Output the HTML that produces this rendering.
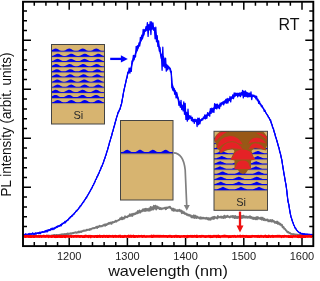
<!DOCTYPE html>
<html><head><meta charset="utf-8"><style>
html,body{margin:0;padding:0;background:#fff;}
body{width:315px;height:281px;overflow:hidden;position:relative;font-family:"Liberation Sans",sans-serif;}
svg{position:absolute;left:0;top:0;will-change:transform;}
</style></head><body>
<svg width="315" height="281" viewBox="0 0 315 281" font-family="Liberation Sans, sans-serif">
<defs><clipPath id="c1"><rect x="51.5" y="44.5" width="53" height="79.5"/></clipPath>
<clipPath id="c3"><rect x="214" y="131.3" width="53.5" height="79"/></clipPath></defs>
<path d="M34.28,246.1 V242.1 M34.28,1.75 V5.75 M45.92,246.1 V242.1 M45.92,1.75 V5.75 M57.56,246.1 V242.1 M57.56,1.75 V5.75 M69.20,246.1 V238.1 M69.20,1.75 V9.75 M80.84,246.1 V242.1 M80.84,1.75 V5.75 M92.48,246.1 V242.1 M92.48,1.75 V5.75 M104.12,246.1 V242.1 M104.12,1.75 V5.75 M115.76,246.1 V242.1 M115.76,1.75 V5.75 M127.40,246.1 V238.1 M127.40,1.75 V9.75 M139.04,246.1 V242.1 M139.04,1.75 V5.75 M150.68,246.1 V242.1 M150.68,1.75 V5.75 M162.32,246.1 V242.1 M162.32,1.75 V5.75 M173.96,246.1 V242.1 M173.96,1.75 V5.75 M185.60,246.1 V238.1 M185.60,1.75 V9.75 M197.24,246.1 V242.1 M197.24,1.75 V5.75 M208.88,246.1 V242.1 M208.88,1.75 V5.75 M220.52,246.1 V242.1 M220.52,1.75 V5.75 M232.16,246.1 V242.1 M232.16,1.75 V5.75 M243.80,246.1 V238.1 M243.80,1.75 V9.75 M255.44,246.1 V242.1 M255.44,1.75 V5.75 M267.08,246.1 V242.1 M267.08,1.75 V5.75 M278.72,246.1 V242.1 M278.72,1.75 V5.75 M290.36,246.1 V242.1 M290.36,1.75 V5.75 M302.00,246.1 V238.1 M302.00,1.75 V9.75 M23,236.30 H31 M313.3,236.30 H305.3 M23,226.50 H27 M313.3,226.50 H309.3 M23,216.70 H27 M313.3,216.70 H309.3 M23,206.90 H27 M313.3,206.90 H309.3 M23,197.10 H27 M313.3,197.10 H309.3 M23,187.30 H31 M313.3,187.30 H305.3 M23,177.50 H27 M313.3,177.50 H309.3 M23,167.70 H27 M313.3,167.70 H309.3 M23,157.90 H27 M313.3,157.90 H309.3 M23,148.10 H27 M313.3,148.10 H309.3 M23,138.30 H31 M313.3,138.30 H305.3 M23,128.50 H27 M313.3,128.50 H309.3 M23,118.70 H27 M313.3,118.70 H309.3 M23,108.90 H27 M313.3,108.90 H309.3 M23,99.10 H27 M313.3,99.10 H309.3 M23,89.30 H31 M313.3,89.30 H305.3 M23,79.50 H27 M313.3,79.50 H309.3 M23,69.70 H27 M313.3,69.70 H309.3 M23,59.90 H27 M313.3,59.90 H309.3 M23,50.10 H27 M313.3,50.10 H309.3 M23,40.30 H31 M313.3,40.30 H305.3 M23,30.50 H27 M313.3,30.50 H309.3 M23,20.70 H27 M313.3,20.70 H309.3 M23,10.90 H27 M313.3,10.90 H309.3" stroke="#000" stroke-width="1.5" fill="none"/>
<g fill="none" stroke-linejoin="round">
<path d="M23.50,236.55 24.30,235.96 25.10,236.64 25.90,236.19 26.70,236.55 27.50,235.91 28.30,236.24 29.10,236.18 29.90,236.56 30.70,236.00 31.50,236.38 32.30,235.90 33.10,236.42 33.90,235.85 34.70,236.28 35.50,235.99 36.30,236.43 37.10,235.90 37.90,236.23 38.70,236.12 39.50,236.50 40.30,235.81 41.10,236.22 41.90,235.77 42.70,236.19 43.50,235.64 44.30,236.31 45.10,235.96 45.90,236.17 46.70,235.73 47.50,235.92 48.30,235.49 49.10,236.15 49.90,235.60 50.70,235.99 51.50,235.46 52.30,235.73 53.10,235.16 53.90,235.40 54.70,234.93 55.50,235.53 56.30,234.86 57.10,235.49 57.90,234.89 58.70,235.29 59.50,234.79 60.30,235.04 61.10,234.35 61.90,234.90 62.70,234.24 63.50,234.46 64.30,234.02 65.10,234.73 65.90,233.85 66.70,234.19 67.50,233.48 68.30,234.27 69.10,233.49 69.90,233.89 70.70,233.29 71.50,233.67 72.30,233.03 73.10,233.29 73.90,232.69 74.70,232.83 75.50,232.29 76.30,232.84 77.10,232.31 77.90,232.64 78.70,231.55 79.50,232.27 80.30,231.38 81.10,232.05 81.90,231.08 82.70,231.24 83.50,230.52 84.30,230.83 85.10,230.39 85.90,230.76 86.70,229.75 87.50,230.00 88.30,229.61 89.10,230.01 89.90,229.07 90.70,229.60 91.50,228.66 92.30,228.60 93.10,228.01 93.90,228.34 94.70,227.87 95.50,227.76 96.30,226.70 97.10,227.94 97.90,226.51 98.70,227.07 99.50,225.76 100.30,226.42 101.10,226.07 101.90,226.31 102.70,225.52 103.50,225.64 104.30,224.46 105.10,225.72 105.90,224.33 106.70,224.97 107.50,223.65 108.30,224.10 109.10,222.84 109.90,223.68 110.70,222.46 111.50,223.85 112.30,222.01 113.10,222.58 113.90,221.86 114.70,222.07 115.50,220.86 116.30,221.67 117.10,220.58 117.90,220.65 118.70,219.96 119.50,219.82 120.30,218.13 121.10,219.27 121.90,217.29 122.70,219.15 123.50,217.87 124.30,218.40 125.10,216.32 125.90,217.28 126.70,216.73 127.50,217.14 128.30,215.73 129.10,216.13 129.90,214.25 130.70,215.85 131.50,214.13 132.30,215.94 133.10,213.68 133.90,214.58 134.70,213.48 135.50,213.92 136.30,212.56 137.10,213.39 137.90,211.05 138.70,212.78 139.50,210.49 140.30,212.50 141.10,210.98 141.90,211.29 142.70,209.39 143.50,210.79 144.30,209.00 145.10,211.07 145.90,208.65 146.70,210.63 147.50,208.99 148.30,210.65 149.10,208.48 149.90,210.65 150.70,206.99 151.50,209.83 152.30,207.33 153.10,209.52 153.90,205.82 154.70,208.51 155.50,205.69 156.30,209.43 157.10,206.52 157.90,208.13 158.70,207.27 159.50,209.02 160.30,208.06 161.10,209.26 161.90,208.20 162.70,208.82 163.50,208.25 164.30,208.39 165.10,207.61 165.90,209.25 166.70,207.58 167.50,208.06 168.30,207.17 169.10,207.64 169.90,206.72 170.70,208.29 171.50,208.41 172.30,210.32 173.10,208.58 173.90,210.87 174.70,209.15 175.50,210.63 176.30,210.25 177.10,211.14 177.90,210.07 178.70,210.83 179.50,209.81 180.30,211.33 181.10,210.49 181.90,213.20 182.70,211.26 183.50,213.17 184.30,212.37 185.10,214.02 185.90,213.41 186.70,214.82 187.50,214.17 188.30,215.46 189.10,214.79 189.90,215.87 190.70,215.36 191.50,217.39 192.30,216.03 193.10,217.58 193.90,215.35 194.70,217.91 195.50,215.72 196.30,218.03 197.10,216.61 197.90,217.84 198.70,217.39 199.50,218.39 200.30,217.17 201.10,218.76 201.90,217.53 202.70,218.45 203.50,217.70 204.30,218.46 205.10,218.00 205.90,218.74 206.70,217.81 207.50,219.13 208.30,218.12 209.10,219.70 209.90,218.28 210.70,219.63 211.50,217.69 212.30,218.74 213.10,216.89 213.90,218.94 214.70,216.79 215.50,217.82 216.30,217.49 217.10,218.45 217.90,216.05 218.70,217.52 219.50,216.98 220.30,217.47 221.10,216.44 221.90,217.82 222.70,216.87 223.50,217.90 224.30,215.62 225.10,217.75 225.90,216.21 226.70,217.03 227.50,215.82 228.30,216.96 229.10,216.73 229.90,217.42 230.70,216.32 231.50,216.82 232.30,216.00 233.10,217.45 233.90,216.01 234.70,218.14 235.50,216.08 236.30,217.98 237.10,216.65 237.90,218.00 238.70,216.75 239.50,217.48 240.30,216.56 241.10,218.22 241.90,215.89 242.70,217.79 243.50,215.65 244.30,217.51 245.10,216.55 245.90,217.67 246.70,216.59 247.50,217.82 248.30,216.79 249.10,217.71 249.90,216.17 250.70,217.98 251.50,217.03 252.30,218.65 253.10,217.52 253.90,218.98 254.70,217.73 255.50,219.14 256.30,217.15 257.10,219.30 257.90,217.10 258.70,218.61 259.50,218.05 260.30,219.01 261.10,217.55 261.90,219.67 262.70,217.69 263.50,220.03 264.30,218.87 265.10,220.38 265.90,219.60 266.70,220.19 267.50,219.40 268.30,221.29 269.10,220.23 269.90,221.35 270.70,220.06 271.50,221.60 272.30,220.03 273.10,221.52 273.90,220.94 274.70,222.69 275.50,221.98 276.30,223.06 277.10,221.50 277.90,223.88 278.70,222.56 279.50,224.40 280.30,223.68 281.10,225.22 281.90,224.75 282.70,227.36 283.50,226.93 284.30,228.86 285.10,228.95 285.90,230.36 286.70,231.00 287.50,232.35 288.30,231.91 289.10,232.96 289.90,232.83 290.70,233.83 291.50,233.83 292.30,234.30 293.10,234.05 293.90,234.67 294.70,234.31 295.50,235.04 296.30,234.50 297.10,234.91 297.90,234.76 298.70,235.17 299.50,234.74 300.30,235.16 301.10,234.99 301.90,235.40 302.70,234.87 303.50,235.49 304.30,234.92 305.10,235.25 305.90,234.87 306.70,235.50 307.50,234.79 308.30,235.33 309.10,234.91 309.90,235.35 310.70,234.90 311.50,235.53 312.30,234.86" stroke="#787878" stroke-width="1.9"/>
<path d="M23.50,234.61 24.00,234.56 24.50,234.51 25.00,234.46 25.50,234.41 26.00,234.37 26.50,234.32 27.00,234.27 27.50,234.23 28.00,234.18 28.50,234.13 29.00,234.08 29.50,234.04 30.00,233.99 30.50,233.94 31.00,233.89 31.50,233.83 32.00,233.78 32.50,233.73 33.00,233.67 33.50,233.61 34.00,233.55 34.50,233.48 35.00,233.41 35.50,233.34 36.00,233.27 36.50,233.19 37.00,233.11 37.50,233.03 38.00,232.94 38.50,232.85 39.00,232.76 39.50,232.66 40.00,232.56 40.50,232.46 41.00,232.36 41.50,232.25 42.00,232.14 42.50,232.02 43.00,231.91 43.50,231.79 44.00,231.67 44.50,231.54 45.00,231.41 45.50,231.28 46.00,231.13 46.50,230.97 47.00,230.80 47.50,230.63 48.00,230.45 48.50,230.27 49.00,230.08 49.50,229.90 50.00,229.71 50.50,229.53 51.00,229.34 51.50,229.16 52.00,228.97 52.50,228.78 53.00,228.58 53.50,228.38 54.00,228.18 54.50,227.98 55.00,227.77 55.50,227.55 56.00,227.33 56.50,227.10 57.00,226.86 57.50,226.62 58.00,226.37 58.50,226.11 59.00,225.84 59.50,225.57 60.00,225.29 60.50,225.00 61.00,224.71 61.50,224.40 62.00,224.09 62.50,223.77 63.00,223.44 63.50,223.10 64.00,222.75 64.50,222.40 65.00,222.02 65.50,221.63 66.00,221.23 66.50,220.81 67.00,220.38 67.50,219.93 68.00,219.48 68.50,219.02 69.00,218.55 69.50,218.07 70.00,217.59 70.50,217.10 71.00,216.61 71.50,216.11 72.00,215.61 72.50,215.11 73.00,214.59 73.50,214.07 74.00,213.54 74.50,213.00 75.00,212.45 75.50,211.89 76.00,211.32 76.50,210.75 77.00,210.16 77.50,209.57 78.00,208.96 78.50,208.35 79.00,207.73 79.50,207.09 80.00,206.44 80.50,205.78 81.00,205.11 81.50,204.43 82.00,203.73 82.50,203.03 83.00,202.32 83.50,201.59 84.00,200.86 84.50,200.12 85.00,199.36 85.50,198.60 86.00,197.83 86.50,197.04 87.00,196.24 87.50,195.43 88.00,194.60 88.50,193.75 89.00,192.89 89.50,192.01 90.00,191.12 90.50,190.22 91.00,189.29 91.50,188.35 92.00,187.39 92.50,186.42 93.00,185.42 93.50,184.41 94.00,183.39 94.50,182.35 95.00,181.31 95.50,180.25 96.00,179.19 96.50,178.11 97.00,177.03 97.50,175.95 98.00,174.87 98.50,173.78 99.00,172.69 99.50,171.58 100.00,170.45 100.50,169.31 101.00,168.15 101.50,166.96 102.00,165.74 102.50,164.49 103.00,163.21 103.50,161.89 104.00,160.51 104.50,159.08 105.00,157.61 105.50,156.10 106.00,154.55 106.50,152.98 107.00,151.38 107.50,149.71 108.00,147.98 108.50,146.24 109.00,144.50 109.50,142.77 110.00,141.02 110.50,139.26 111.00,137.49 111.50,135.72 112.00,133.94 112.50,132.17 113.00,130.40 113.50,128.60 114.00,126.76 114.50,124.89 115.00,123.02 115.50,121.17 116.00,119.36 116.50,117.61 117.00,115.95 117.50,114.40 118.00,113.01 118.50,111.78 119.00,110.63 119.50,109.49 120.00,108.30 120.50,106.97 121.00,105.44 121.50,103.56 122.00,101.10 122.50,98.27 123.00,95.29 123.50,92.42 124.00,89.87 124.50,87.56 125.00,85.34 125.50,83.19 126.00,81.09 126.50,78.92 127.00,76.52 127.50,74.23 128.00,72.41 128.50,71.32 129.00,70.61 129.50,70.05 130.00,69.46 130.50,68.66 131.00,67.33 131.50,65.28 132.00,62.93 132.50,60.67 133.00,58.91 133.50,57.77 134.00,56.87 134.50,55.87 135.00,54.46 135.50,52.76 136.00,51.15 136.50,49.96 137.00,49.00 137.50,48.12 138.00,47.12 138.50,45.94 139.00,44.66 139.50,43.37 140.00,42.02 140.50,40.67 141.00,39.42 141.50,38.39 142.00,37.44 142.50,36.35 143.00,34.75 143.50,32.64 144.00,30.75 144.50,29.63 145.00,28.84 145.50,28.36 146.00,27.96 146.50,27.60 147.00,27.30 147.50,27.07 148.00,26.94 148.50,26.90 149.00,26.93 149.50,26.98 150.00,27.02 150.50,26.96 151.00,26.65 151.50,26.23 152.00,25.88 152.50,25.78 153.00,26.01 153.50,26.49 154.00,27.13 154.50,27.95 155.00,29.41 155.50,31.33 156.00,33.51 156.50,35.73 157.00,37.77 157.50,39.68 158.00,41.62 158.50,43.60 159.00,45.61 159.50,47.67 160.00,49.77 160.50,52.08 161.00,54.16 161.50,55.19 162.00,55.49 162.50,55.62 163.00,55.81 163.50,56.27 164.00,57.89 164.50,60.39 165.00,62.24 165.50,63.21 166.00,64.04 166.50,64.74 167.00,65.26 167.50,65.65 168.00,66.06 168.50,66.47 169.00,66.89 169.50,67.35 170.00,68.01 170.50,69.02 171.00,70.49 171.50,73.71 172.00,82.89 172.50,85.62 173.00,86.75 173.50,87.65 174.00,88.44 174.50,89.23 175.00,90.12 175.50,91.09 176.00,92.13 176.50,93.24 177.00,94.41 177.50,95.64 178.00,96.95 178.50,98.59 179.00,100.35 179.50,101.93 180.00,103.04 180.50,103.69 181.00,104.17 181.50,104.54 182.00,104.86 182.50,105.20 183.00,105.64 183.50,106.24 184.00,107.15 184.50,108.34 185.00,109.66 185.50,110.97 186.00,112.15 186.50,113.06 187.00,113.59 187.50,114.04 188.00,114.48 188.50,114.91 189.00,115.33 189.50,115.73 190.00,116.12 190.50,116.50 191.00,117.01 191.50,117.63 192.00,118.28 192.50,118.88 193.00,119.38 193.50,119.68 194.00,119.77 194.50,119.79 195.00,119.75 195.50,119.69 196.00,119.63 196.50,119.57 197.00,119.54 197.50,119.55 198.00,119.59 198.50,119.66 199.00,119.74 199.50,119.82 200.00,119.90 200.50,119.96 201.00,119.90 201.50,119.63 202.00,119.23 202.50,118.74 203.00,118.22 203.50,117.73 204.00,117.33 204.50,116.98 205.00,116.66 205.50,116.35 206.00,116.03 206.50,115.68 207.00,115.30 207.50,114.85 208.00,114.28 208.50,113.59 209.00,112.81 209.50,111.99 210.00,111.18 210.50,110.41 211.00,109.72 211.50,109.17 212.00,108.77 212.50,108.44 213.00,108.14 213.50,107.88 214.00,107.63 214.50,107.39 215.00,107.14 215.50,106.87 216.00,106.59 216.50,106.32 217.00,106.04 217.50,105.76 218.00,105.48 218.50,105.18 219.00,104.88 219.50,104.55 220.00,104.18 220.50,103.78 221.00,103.38 221.50,102.98 222.00,102.61 222.50,102.29 223.00,102.03 223.50,101.82 224.00,101.66 224.50,101.51 225.00,101.38 225.50,101.24 226.00,101.09 226.50,100.91 227.00,100.68 227.50,100.41 228.00,100.09 228.50,99.73 229.00,99.36 229.50,98.99 230.00,98.61 230.50,98.25 231.00,97.87 231.50,97.47 232.00,97.04 232.50,96.61 233.00,96.20 233.50,95.80 234.00,95.43 234.50,95.10 235.00,94.76 235.50,94.42 236.00,94.10 236.50,93.82 237.00,93.60 237.50,93.45 238.00,93.40 238.50,93.41 239.00,93.42 239.50,93.44 240.00,93.47 240.50,93.49 241.00,93.52 241.50,93.54 242.00,93.56 242.50,93.57 243.00,93.57 243.50,93.55 244.00,93.44 244.50,93.20 245.00,92.88 245.50,92.56 246.00,92.29 246.50,92.14 247.00,92.23 247.50,92.77 248.00,93.50 248.50,94.17 249.00,94.49 249.50,94.54 250.00,94.60 250.50,94.66 251.00,94.73 251.50,94.80 252.00,94.86 252.50,94.98 253.00,95.16 253.50,95.39 254.00,95.65 254.50,95.94 255.00,96.23 255.50,96.55 256.00,97.05 256.50,97.73 257.00,98.52 257.50,99.38 258.00,100.24 258.50,101.05 259.00,101.78 259.50,102.50 260.00,103.22 260.50,103.94 261.00,104.67 261.50,105.41 262.00,106.16 262.50,106.93 263.00,107.72 263.50,108.53 264.00,109.36 264.50,110.20 265.00,111.04 265.50,111.89 266.00,112.72 266.50,113.54 267.00,114.31 267.50,115.08 268.00,115.85 268.50,116.65 269.00,117.50 269.50,118.42 270.00,119.42 270.50,120.56 271.00,121.83 271.50,123.20 272.00,124.65 272.50,126.15 273.00,127.67 273.50,129.20 274.00,130.79 274.50,132.44 275.00,134.13 275.50,135.85 276.00,137.57 276.50,139.29 277.00,141.00 277.50,142.71 278.00,144.43 278.50,146.20 279.00,148.02 279.50,149.91 280.00,151.86 280.50,153.85 281.00,155.97 281.50,158.31 282.00,161.05 282.50,164.35 283.00,167.65 283.50,170.69 284.00,173.66 284.50,176.60 285.00,179.52 285.50,182.27 286.00,185.08 286.50,188.26 287.00,192.55 287.50,197.56 288.00,200.96 288.50,203.11 289.00,205.58 289.50,208.77 290.00,211.98 290.50,214.51 291.00,216.49 291.50,218.23 292.00,219.80 292.50,221.24 293.00,222.63 293.50,223.99 294.00,225.27 294.50,226.43 295.00,227.43 295.50,228.27 296.00,229.05 296.50,229.77 297.00,230.42 297.50,230.99 298.00,231.47 298.50,231.86 299.00,232.19 299.50,232.50 300.00,232.79 300.50,233.05 301.00,233.27 301.50,233.46 302.00,233.60 302.50,233.71 303.00,233.79 303.50,233.87 304.00,233.94 304.50,234.00 305.00,234.06 305.50,234.11 306.00,234.16 306.50,234.20 307.00,234.24 307.50,234.28 308.00,234.32 308.50,234.36 309.00,234.39 309.50,234.43 310.00,234.47 310.50,234.52 311.00,234.56 311.50,234.60 312.00,234.64 312.50,234.67 313.00,234.71 313.00,234.89 312.50,234.85 312.00,234.81 311.50,234.78 311.00,234.74 310.50,234.70 310.00,234.66 309.50,234.62 309.00,234.59 308.50,234.55 308.00,234.51 307.50,234.48 307.00,234.44 306.50,234.40 306.00,234.36 305.50,234.31 305.00,234.27 304.50,234.21 304.00,234.15 303.50,234.08 303.00,234.01 302.50,233.93 302.00,233.82 301.50,233.68 301.00,233.49 300.50,233.27 300.00,233.02 299.50,232.73 299.00,232.42 298.50,232.08 298.00,231.70 297.50,231.22 297.00,230.65 296.50,230.00 296.00,229.28 295.50,228.51 295.00,227.67 294.50,226.66 294.00,225.50 293.50,224.22 293.00,222.87 292.50,221.48 292.00,220.04 291.50,218.47 291.00,216.73 290.50,214.75 290.00,212.22 289.50,209.01 289.00,205.83 288.50,203.35 288.00,201.21 287.50,197.81 287.00,192.80 286.50,188.52 286.00,185.33 285.50,182.53 285.00,179.79 284.50,176.87 284.00,173.94 283.50,170.98 283.00,167.95 282.50,164.67 282.00,161.38 281.50,158.66 281.00,156.33 280.50,154.22 280.00,152.25 279.50,150.31 279.00,148.43 278.50,146.63 278.00,144.88 277.50,143.17 277.00,141.48 276.50,139.79 276.00,138.09 275.50,136.38 275.00,134.69 274.50,133.02 274.00,131.40 273.50,129.83 273.00,128.33 272.50,126.83 272.00,125.36 271.50,123.92 271.00,122.57 270.50,121.31 270.00,120.17 269.50,119.16 269.00,118.22 268.50,117.34 268.00,116.50 267.50,115.69 267.00,114.90 266.50,114.10 266.00,113.28 265.50,112.44 265.00,111.59 264.50,110.75 264.00,109.91 263.50,109.09 263.00,108.28 262.50,107.50 262.00,106.74 261.50,106.02 261.00,105.34 260.50,104.68 260.00,104.02 259.50,103.36 259.00,102.67 258.50,101.95 258.00,101.14 257.50,100.27 257.00,99.41 256.50,98.61 256.00,97.93 255.50,97.43 255.00,97.12 254.50,96.87 254.00,96.67 253.50,96.51 253.00,96.41 252.50,96.35 252.00,96.34 251.50,96.38 251.00,96.43 250.50,96.49 250.00,96.54 249.50,96.59 249.00,96.61 248.50,96.36 248.00,95.76 247.50,95.08 247.00,94.58 246.50,94.48 246.00,94.55 245.50,94.67 245.00,94.81 244.50,94.94 244.00,95.03 243.50,95.05 243.00,95.02 242.50,94.98 242.00,94.93 241.50,94.88 241.00,94.82 240.50,94.76 240.00,94.71 239.50,94.67 239.00,94.63 238.50,94.61 238.00,94.60 237.50,94.68 237.00,94.90 236.50,95.23 236.00,95.63 235.50,96.06 235.00,96.49 234.50,96.89 234.00,97.23 233.50,97.56 233.00,97.89 232.50,98.23 232.00,98.56 231.50,98.91 231.00,99.25 230.50,99.60 230.00,99.96 229.50,100.34 229.00,100.71 228.50,101.08 228.00,101.44 227.50,101.76 227.00,102.03 226.50,102.26 226.00,102.44 225.50,102.59 225.00,102.73 224.50,102.86 224.00,103.01 223.50,103.17 223.00,103.38 222.50,103.64 222.00,103.98 221.50,104.37 221.00,104.79 220.50,105.22 220.00,105.64 219.50,106.04 219.00,106.38 218.50,106.71 218.00,107.02 217.50,107.33 217.00,107.63 216.50,107.93 216.00,108.22 215.50,108.52 215.00,108.82 214.50,109.09 214.00,109.36 213.50,109.63 213.00,109.91 212.50,110.22 212.00,110.57 211.50,110.97 211.00,111.49 210.50,112.10 210.00,112.78 209.50,113.49 209.00,114.20 208.50,114.87 208.00,115.47 207.50,115.97 207.00,116.35 206.50,116.68 206.00,116.97 205.50,117.24 205.00,117.51 204.50,117.80 204.00,118.13 203.50,118.55 203.00,119.08 202.50,119.68 202.00,120.27 201.50,120.79 201.00,121.16 200.50,121.34 200.00,121.40 199.50,121.48 199.00,121.56 198.50,121.64 198.00,121.71 197.50,121.75 197.00,121.76 196.50,121.71 196.00,121.60 195.50,121.46 195.00,121.30 194.50,121.15 194.00,121.02 193.50,120.91 193.00,120.60 192.50,120.11 192.00,119.50 191.50,118.86 191.00,118.24 190.50,117.72 190.00,117.38 189.50,117.20 189.00,117.13 188.50,117.10 188.00,117.05 187.50,116.92 187.00,116.65 186.50,116.13 186.00,115.20 185.50,113.99 185.00,112.63 184.50,111.26 184.00,110.02 183.50,109.05 183.00,108.38 182.50,107.85 182.00,107.40 181.50,106.97 181.00,106.50 180.50,105.95 180.00,105.26 179.50,104.15 179.00,102.56 178.50,100.79 178.00,99.15 177.50,97.84 177.00,96.61 176.50,95.44 176.00,94.33 175.50,93.29 175.00,92.32 174.50,91.44 174.00,90.99 173.50,90.84 173.00,90.62 172.50,89.97 172.00,87.01 171.50,75.80 171.00,72.10 170.50,70.51 170.00,69.43 169.50,68.73 169.00,68.30 168.50,68.17 168.00,68.19 167.50,68.16 167.00,67.88 166.50,67.32 166.00,66.56 165.50,65.66 165.00,64.66 164.50,63.59 164.00,62.56 163.50,61.73 163.00,61.17 162.50,60.75 162.00,60.28 161.50,59.59 161.00,57.95 160.50,54.98 160.00,52.23 159.50,50.12 159.00,48.06 158.50,46.05 158.00,44.07 157.50,42.13 157.00,40.23 156.50,38.23 156.00,36.14 155.50,34.13 155.00,32.38 154.50,31.09 154.00,30.36 153.50,29.82 153.00,29.42 152.50,29.23 152.00,29.29 151.50,29.50 151.00,29.75 150.50,29.94 150.00,29.98 149.50,30.02 149.00,30.07 148.50,30.10 148.00,30.13 147.50,30.25 147.00,30.44 146.50,30.69 146.00,30.99 145.50,31.33 145.00,31.75 144.50,32.45 144.00,33.43 143.50,35.03 143.00,36.87 142.50,38.35 142.00,39.42 141.50,40.36 141.00,41.38 140.50,42.51 140.00,43.69 139.50,44.92 139.00,46.24 138.50,47.61 138.00,48.88 137.50,49.94 137.00,50.90 136.50,51.90 136.00,53.09 135.50,54.55 135.00,56.07 134.50,57.42 134.00,58.52 133.50,59.57 133.00,60.79 132.50,62.52 132.00,64.72 131.50,67.00 131.00,68.96 130.50,70.22 130.00,70.95 129.50,71.47 129.00,71.96 128.50,72.59 128.00,73.55 127.50,75.16 127.00,77.23 126.50,79.45 126.00,81.59 125.50,83.69 125.00,85.84 124.50,88.06 124.00,90.37 123.50,92.92 123.00,95.79 122.50,98.77 122.00,101.60 121.50,104.06 121.00,105.94 120.50,107.46 120.00,108.77 119.50,109.95 119.00,111.07 118.50,112.20 118.00,113.42 117.50,114.80 117.00,116.35 116.50,118.01 116.00,119.76 115.50,121.57 115.00,123.42 114.50,125.29 114.00,127.16 113.50,129.00 113.00,130.80 112.50,132.57 112.00,134.33 111.50,136.09 111.00,137.84 110.50,139.59 110.00,141.33 109.50,143.07 109.00,144.80 108.50,146.54 108.00,148.28 107.50,150.01 107.00,151.68 106.50,153.28 106.00,154.85 105.50,156.40 105.00,157.91 104.50,159.38 104.00,160.81 103.50,162.19 103.00,163.51 102.50,164.79 102.00,166.04 101.50,167.26 101.00,168.45 100.50,169.61 100.00,170.75 99.50,171.88 99.00,172.99 98.50,174.08 98.00,175.17 97.50,176.25 97.00,177.33 96.50,178.41 96.00,179.49 95.50,180.55 95.00,181.61 94.50,182.65 94.00,183.69 93.50,184.71 93.00,185.72 92.50,186.72 92.00,187.69 91.50,188.65 91.00,189.59 90.50,190.52 90.00,191.42 89.50,192.31 89.00,193.19 88.50,194.05 88.00,194.90 87.50,195.73 87.00,196.54 86.50,197.34 86.00,198.13 85.50,198.90 85.00,199.66 84.50,200.42 84.00,201.16 83.50,201.89 83.00,202.62 82.50,203.33 82.00,204.03 81.50,204.73 81.00,205.41 80.50,206.08 80.00,206.74 79.50,207.39 79.00,208.03 78.50,208.65 78.00,209.26 77.50,209.87 77.00,210.47 76.50,211.06 76.00,211.64 75.50,212.22 75.00,212.78 74.50,213.34 74.00,213.89 73.50,214.43 73.00,214.96 72.50,215.48 72.00,215.99 71.50,216.49 71.00,216.98 70.50,217.47 70.00,217.96 69.50,218.44 69.00,218.92 68.50,219.39 68.00,219.86 67.50,220.31 67.00,220.75 66.50,221.18 66.00,221.60 65.50,222.01 65.00,222.40 64.50,222.77 64.00,223.13 63.50,223.48 63.00,223.81 62.50,224.14 62.00,224.46 61.50,224.78 61.00,225.08 60.50,225.38 60.00,225.66 59.50,225.95 59.00,226.22 58.50,226.48 58.00,226.74 57.50,226.99 57.00,227.24 56.50,227.47 56.00,227.70 55.50,227.92 55.00,228.14 54.50,228.35 54.00,228.56 53.50,228.76 53.00,228.96 52.50,229.15 52.00,229.34 51.50,229.53 51.00,229.72 50.50,229.90 50.00,230.09 49.50,230.27 49.00,230.46 48.50,230.64 48.00,230.83 47.50,231.01 47.00,231.18 46.50,231.35 46.00,231.50 45.50,231.65 45.00,231.79 44.50,231.92 44.00,232.04 43.50,232.16 43.00,232.28 42.50,232.40 42.00,232.51 41.50,232.62 41.00,232.73 40.50,232.84 40.00,232.94 39.50,233.04 39.00,233.13 38.50,233.23 38.00,233.32 37.50,233.40 37.00,233.49 36.50,233.57 36.00,233.64 35.50,233.72 35.00,233.79 34.50,233.86 34.00,233.92 33.50,233.98 33.00,234.04 32.50,234.10 32.00,234.16 31.50,234.21 31.00,234.26 30.50,234.31 30.00,234.36 29.50,234.41 29.00,234.46 28.50,234.51 28.00,234.55 27.50,234.60 27.00,234.65 26.50,234.69 26.00,234.74 25.50,234.79 25.00,234.84 24.50,234.89 24.00,234.94 23.50,234.99 Z" fill="#0000ff" stroke="#0000ff" stroke-width="1.0"/>
<path d="M23.50,235.08 24.20,234.37 24.90,235.00 25.60,233.70 26.30,234.77 27.00,234.42 27.70,234.89 28.40,233.72 29.10,235.08 29.80,233.47 30.50,234.19 31.20,234.00 31.90,234.03 32.60,232.89 33.30,234.30 34.00,233.41 34.70,234.38 35.40,232.90 36.10,234.17 36.80,232.97 37.50,233.33 38.20,232.62 38.90,233.73 39.60,232.21 40.30,233.64 41.00,232.03 41.70,232.57 42.40,231.66 43.10,232.09 43.80,231.89 44.50,232.05 45.20,230.56 45.90,231.95 46.60,230.36 47.30,231.93 48.00,229.66 48.70,230.74 49.40,229.59 50.10,230.54 50.80,228.63 51.50,229.67 52.20,228.04 52.90,229.66 53.60,228.19 54.30,228.97 55.00,227.43 55.70,228.12 56.40,226.54 57.10,227.37 57.80,225.89 58.50,226.50 59.20,225.43 59.90,226.23 60.60,224.58 61.30,225.74 62.00,223.38 62.70,223.87 63.40,223.00 64.10,223.17 64.80,221.48 65.50,222.82 66.20,220.68 66.90,220.97 67.60,219.86 68.30,220.05 69.00,218.22 69.70,218.53 70.40,216.64 71.10,216.93 71.80,215.48 72.50,216.11 73.20,214.25 73.90,214.46 74.60,212.82 75.30,212.53 76.00,210.93 76.70,211.15 77.40,209.63 78.10,209.58 78.80,207.95 79.50,207.97 80.20,205.82 80.90,205.94 81.60,204.20 82.30,203.97 83.00,202.22 83.70,202.01 84.40,200.21 85.10,199.65 85.80,197.82 86.50,198.00 87.20,195.93 87.90,195.13 88.60,193.68 89.30,192.69 90.00,191.15 90.70,190.23 91.40,188.48 92.10,187.99 92.80,185.47 93.50,185.08 94.20,183.11 94.90,182.06 95.60,179.56 96.30,179.07 97.00,176.58 97.70,176.10 98.40,173.97 99.10,173.19 99.80,170.36 100.50,169.90 101.20,167.02 101.90,166.48 102.60,164.36 103.30,162.99 104.00,160.07 104.70,158.77 105.40,156.36 106.10,154.76 106.80,151.70 107.50,150.15 108.20,147.33 108.90,145.00 109.60,141.82 110.30,140.17 111.00,137.35 111.70,135.75 112.40,132.18 113.10,130.40 113.80,127.34 114.50,125.62 115.20,122.28 115.90,120.47 116.60,117.28 117.30,115.82 118.00,112.20 118.70,112.10 119.40,109.58 120.10,109.45 120.80,105.36 121.50,103.93 122.20,99.63 122.90,96.28 123.60,91.89 124.30,89.02 125.00,85.53 125.70,82.75 126.40,78.91 127.10,77.60 127.80,72.06 128.50,72.70 129.20,68.03 129.90,73.18 130.60,68.39 131.30,71.43 132.00,60.92 132.70,61.99 133.40,55.38 134.10,59.86 134.80,55.55 135.50,56.95 136.20,46.40 136.90,50.96 137.60,45.58 138.30,47.53 139.00,42.93 139.70,45.85 140.40,37.37 141.10,40.31 141.80,35.19 142.50,38.67 143.20,29.33 143.90,35.01 144.60,30.73 145.30,30.65 146.00,26.59 146.70,29.44 147.40,22.60 148.10,36.47 148.80,24.56 149.50,28.63 150.20,21.71 150.90,34.54 151.60,21.97 152.30,27.97 153.00,23.00 153.70,29.99 154.40,28.14 155.10,38.76 155.80,27.22 156.50,41.78 157.20,35.69 157.90,46.36 158.60,40.87 159.30,51.06 160.00,47.49 160.70,55.19 161.40,54.42 162.10,70.27 162.80,47.27 163.50,66.17 164.20,58.95 164.90,67.70 165.60,58.26 166.30,71.19 167.00,64.78 167.70,69.87 168.40,66.09 169.10,67.86 169.80,67.92 170.50,71.85 171.20,71.49 171.90,87.72 172.60,85.24 173.30,90.55 174.00,88.39 174.70,94.23 175.40,91.12 176.10,97.91 176.80,92.54 177.50,97.80 178.20,98.67 178.90,105.30 179.60,102.36 180.30,107.24 181.00,100.37 181.70,109.48 182.40,106.04 183.10,110.85 183.80,101.83 184.50,114.28 185.20,103.49 185.90,119.38 186.60,112.66 187.30,121.15 188.00,109.25 188.70,119.56 189.40,116.17 190.10,118.21 190.80,115.97 191.50,120.66 192.20,117.45 192.90,121.56 193.60,119.45 194.30,123.31 195.00,119.07 195.70,121.39 196.40,120.62 197.10,126.49 197.80,118.19 198.50,124.59 199.20,118.17 199.90,123.79 200.60,119.98 201.30,120.42 202.00,118.55 202.70,120.03 203.40,117.03 204.10,118.58 204.80,114.90 205.50,118.93 206.20,114.86 206.90,118.25 207.60,112.58 208.30,115.24 209.00,113.21 209.70,116.18 210.40,108.68 211.10,113.43 211.80,108.18 212.50,112.02 213.20,108.52 213.90,112.43 214.60,103.76 215.30,108.33 216.00,104.04 216.70,108.89 217.40,104.06 218.10,107.97 218.80,105.69 219.50,108.61 220.20,103.02 220.90,106.13 221.60,102.83 222.30,103.98 223.00,101.92 223.70,104.90 224.40,100.93 225.10,102.98 225.80,99.36 226.50,103.23 227.20,98.37 227.90,103.13 228.60,98.77 229.30,100.57 230.00,96.53 230.70,101.89 231.40,96.91 232.10,98.08 232.80,94.82 233.50,98.63 234.20,92.88 234.90,95.87 235.60,93.14 236.30,95.30 237.00,93.22 237.70,96.75 238.40,93.45 239.10,95.85 239.80,92.92 240.50,96.64 241.20,92.62 241.90,94.81 242.60,90.33 243.30,97.94 244.00,91.22 244.70,96.33 245.40,91.01 246.10,96.63 246.80,92.74 247.50,96.98 248.20,93.03 248.90,96.86 249.60,93.08 250.30,96.49 251.00,91.95 251.70,99.56 252.40,95.37 253.10,96.21 253.80,95.16 254.50,97.15 255.20,95.82 255.90,98.80 256.60,96.28 257.30,100.48 258.00,99.39 258.70,103.36 259.40,101.07 260.10,104.48 260.80,104.26 261.50,106.83 262.20,105.81 262.90,108.14 263.60,108.32 264.30,111.41 265.00,110.33 265.70,112.67 266.40,113.50 267.10,114.80 267.80,115.43 268.50,117.61 269.20,117.61 269.90,120.05 270.60,120.01 271.30,123.18 272.00,124.62 272.70,127.84 273.40,128.40 274.10,131.96 274.80,133.39 275.50,136.75 276.20,138.23 276.90,141.08 277.60,143.18 278.30,146.30 279.00,147.85 279.70,151.88 280.40,153.55 281.10,157.46 281.80,159.75 282.50,164.64 283.20,168.56 283.90,173.29 284.60,176.88 285.30,181.36 286.00,184.68 286.70,190.29 287.40,196.21 288.10,201.97 288.80,204.42 289.50,209.47 290.20,213.00 290.90,216.68 291.60,218.46 292.30,221.20 293.00,222.64 293.70,225.13 294.40,225.84 295.10,228.31 295.80,228.26 296.50,230.08 297.20,230.61 297.90,231.72 298.60,231.82 299.30,232.97 300.00,232.42 300.70,233.59 301.40,233.37 302.10,234.25 302.80,233.56 303.50,234.51 304.20,233.71 304.90,234.56 305.60,234.21 306.30,234.43 307.00,234.10 307.70,234.67 308.40,234.27 309.10,234.76 309.80,234.23 310.50,234.72 311.20,234.41 311.90,234.81 312.60,234.36" stroke="#0000ff" stroke-width="1.3"/>
<path d="M23.50,236.67 24.10,236.08 24.70,236.68 25.30,236.29 25.90,236.64 26.50,236.11 27.10,236.42 27.70,236.12 28.30,236.76 28.90,236.40 29.50,236.64 30.10,236.01 30.70,236.81 31.30,236.39 31.90,236.70 32.50,236.40 33.10,236.64 33.70,236.32 34.30,236.67 34.90,236.18 35.50,236.53 36.10,236.12 36.70,236.57 37.30,236.39 37.90,236.70 38.50,236.10 39.10,236.69 39.70,236.28 40.30,236.52 40.90,236.28 41.50,236.69 42.10,236.39 42.70,236.44 43.30,236.13 43.90,236.53 44.50,236.06 45.10,236.68 45.70,236.34 46.30,236.57 46.90,235.94 47.50,236.49 48.10,236.25 48.70,236.82 49.30,236.28 49.90,236.54 50.50,236.39 51.10,236.74 51.70,236.27 52.30,236.71 52.90,236.10 53.50,236.55 54.10,236.23 54.70,236.67 55.30,236.30 55.90,236.88 56.50,236.13 57.10,236.78 57.70,236.35 58.30,236.72 58.90,236.10 59.50,236.73 60.10,236.16 60.70,236.65 61.30,236.03 61.90,236.79 62.50,236.24 63.10,236.63 63.70,236.11 64.30,236.61 64.90,236.17 65.50,236.86 66.10,235.99 66.70,236.49 67.30,236.34 67.90,236.41 68.50,236.33 69.10,236.79 69.70,236.27 70.30,236.54 70.90,236.01 71.50,236.74 72.10,236.37 72.70,236.50 73.30,236.19 73.90,236.67 74.50,236.16 75.10,236.48 75.70,236.09 76.30,236.66 76.90,236.02 77.50,236.51 78.10,236.10 78.70,236.49 79.30,236.18 79.90,236.77 80.50,236.21 81.10,236.46 81.70,236.16 82.30,236.63 82.90,236.32 83.50,236.76 84.10,236.30 84.70,236.70 85.30,235.93 85.90,236.52 86.50,235.99 87.10,236.50 87.70,236.17 88.30,236.82 88.90,235.99 89.50,236.56 90.10,236.08 90.70,236.88 91.30,236.32 91.90,236.45 92.50,236.34 93.10,236.55 93.70,236.27 94.30,236.79 94.90,236.24 95.50,236.41 96.10,236.15 96.70,236.78 97.30,236.15 97.90,236.66 98.50,236.30 99.10,236.56 99.70,235.93 100.30,236.78 100.90,236.27 101.50,236.48 102.10,236.33 102.70,236.78 103.30,236.04 103.90,236.57 104.50,236.14 105.10,236.72 105.70,236.18 106.30,236.56 106.90,235.99 107.50,236.69 108.10,236.16 108.70,236.69 109.30,236.13 109.90,236.48 110.50,236.32 111.10,236.56 111.70,236.30 112.30,236.52 112.90,235.99 113.50,236.75 114.10,236.34 114.70,236.60 115.30,235.96 115.90,236.66 116.50,236.24 117.10,236.44 117.70,236.37 118.30,236.69 118.90,236.07 119.50,236.52 120.10,235.93 120.70,236.69 121.30,236.34 121.90,236.64 122.50,236.28 123.10,236.68 123.70,236.35 124.30,236.77 124.90,236.11 125.50,236.51 126.10,236.23 126.70,236.66 127.30,236.15 127.90,236.50 128.50,235.92 129.10,236.71 129.70,236.11 130.30,236.61 130.90,235.95 131.50,236.61 132.10,236.27 132.70,236.47 133.30,235.94 133.90,236.70 134.50,236.35 135.10,236.83 135.70,236.30 136.30,236.44 136.90,236.32 137.50,236.64 138.10,236.12 138.70,236.56 139.30,236.31 139.90,236.51 140.50,236.17 141.10,236.47 141.70,236.03 142.30,236.70 142.90,236.31 143.50,236.46 144.10,236.09 144.70,236.47 145.30,236.40 145.90,236.73 146.50,236.37 147.10,236.49 147.70,236.34 148.30,236.51 148.90,236.34 149.50,236.61 150.10,236.39 150.70,236.43 151.30,235.92 151.90,236.71 152.50,236.17 153.10,236.75 153.70,235.92 154.30,236.52 154.90,236.09 155.50,236.50 156.10,236.11 156.70,236.50 157.30,236.02 157.90,236.41 158.50,236.00 159.10,236.67 159.70,235.97 160.30,236.46 160.90,236.12 161.50,236.50 162.10,236.30 162.70,236.42 163.30,235.93 163.90,236.40 164.50,236.29 165.10,236.52 165.70,236.19 166.30,236.52 166.90,236.16 167.50,236.74 168.10,236.17 168.70,236.57 169.30,236.02 169.90,236.47 170.50,236.10 171.10,236.69 171.70,236.17 172.30,236.66 172.90,236.37 173.50,236.45 174.10,236.19 174.70,236.75 175.30,236.08 175.90,236.52 176.50,235.99 177.10,236.78 177.70,236.18 178.30,236.49 178.90,236.17 179.50,236.77 180.10,236.20 180.70,236.63 181.30,236.35 181.90,236.57 182.50,236.36 183.10,236.48 183.70,236.32 184.30,236.63 184.90,236.34 185.50,236.52 186.10,236.20 186.70,236.66 187.30,236.12 187.90,236.82 188.50,236.23 189.10,236.52 189.70,236.23 190.30,236.48 190.90,236.06 191.50,236.69 192.10,236.10 192.70,236.74 193.30,236.23 193.90,236.41 194.50,236.00 195.10,236.50 195.70,236.19 196.30,236.61 196.90,235.95 197.50,236.77 198.10,236.38 198.70,236.51 199.30,236.27 199.90,236.45 200.50,236.15 201.10,236.74 201.70,236.08 202.30,236.41 202.90,236.12 203.50,236.44 204.10,236.15 204.70,236.66 205.30,236.29 205.90,236.65 206.50,236.18 207.10,236.60 207.70,236.25 208.30,236.50 208.90,236.12 209.50,236.62 210.10,236.13 210.70,236.81 211.30,236.29 211.90,236.63 212.50,236.30 213.10,236.67 213.70,236.11 214.30,236.47 214.90,236.12 215.50,236.44 216.10,236.06 216.70,236.85 217.30,236.13 217.90,236.63 218.50,235.92 219.10,236.77 219.70,236.34 220.30,236.86 220.90,236.36 221.50,236.47 222.10,236.30 222.70,236.52 223.30,235.99 223.90,236.43 224.50,235.91 225.10,236.51 225.70,235.95 226.30,236.54 226.90,236.32 227.50,236.56 228.10,236.20 228.70,236.88 229.30,236.24 229.90,236.76 230.50,236.33 231.10,236.63 231.70,236.26 232.30,236.48 232.90,236.15 233.50,236.64 234.10,236.06 234.70,236.42 235.30,236.26 235.90,236.73 236.50,236.39 237.10,236.47 237.70,236.12 238.30,236.51 238.90,236.36 239.50,236.47 240.10,235.94 240.70,236.63 241.30,236.31 241.90,236.57 242.50,236.12 243.10,236.64 243.70,236.06 244.30,236.45 244.90,236.29 245.50,236.70 246.10,236.08 246.70,236.72 247.30,236.18 247.90,236.61 248.50,236.23 249.10,236.63 249.70,236.25 250.30,236.64 250.90,236.19 251.50,236.66 252.10,236.03 252.70,236.45 253.30,236.23 253.90,236.45 254.50,236.34 255.10,236.47 255.70,236.27 256.30,236.53 256.90,236.18 257.50,236.74 258.10,236.01 258.70,236.66 259.30,236.37 259.90,236.75 260.50,236.09 261.10,236.69 261.70,236.15 262.30,236.60 262.90,236.27 263.50,236.78 264.10,236.31 264.70,236.53 265.30,235.93 265.90,236.61 266.50,236.26 267.10,236.65 267.70,236.35 268.30,236.75 268.90,235.92 269.50,236.57 270.10,236.18 270.70,236.62 271.30,236.30 271.90,236.49 272.50,236.06 273.10,236.78 273.70,236.30 274.30,236.57 274.90,236.29 275.50,236.49 276.10,236.16 276.70,236.49 277.30,235.96 277.90,236.51 278.50,236.14 279.10,236.51 279.70,236.07 280.30,236.54 280.90,236.27 281.50,236.82 282.10,236.18 282.70,236.44 283.30,236.25 283.90,236.60 284.50,235.96 285.10,236.46 285.70,236.18 286.30,236.54 286.90,236.30 287.50,236.59 288.10,236.14 288.70,236.76 289.30,236.28 289.90,236.70 290.50,236.29 291.10,236.65 291.70,236.23 292.30,236.86 292.90,236.34 293.50,236.45 294.10,236.30 294.70,236.60 295.30,236.23 295.90,236.45 296.50,236.38 297.10,236.65 297.70,236.16 298.30,236.81 298.90,236.18 299.50,236.61 300.10,235.91 300.70,236.88 301.30,236.19 301.90,236.67 302.50,235.97 303.10,236.79 303.70,236.25 304.30,236.81 304.90,236.34 305.50,236.78 306.10,236.34 306.70,236.56 307.30,236.37 307.90,236.64 308.50,236.11 309.10,236.52 309.70,236.08 310.30,236.62 310.90,236.35 311.50,236.65 312.10,236.20 312.70,236.74" stroke="#ff0000" stroke-width="2.5"/>
</g>
<g>
<rect x="51.5" y="44.5" width="53" height="79.5" fill="#d7b470"/>
<g clip-path="url(#c1)"><path d="M51.50,51.80 L51.50,50.38 L52.00,50.13 L52.50,49.85 L53.00,49.55 L53.50,49.26 L54.00,48.99 L54.50,48.78 L55.00,48.63 L55.50,48.56 L56.00,48.56 L56.50,48.65 L57.00,48.81 L57.50,49.04 L58.00,49.31 L58.50,49.60 L59.00,49.90 L59.50,50.18 L60.00,50.42 L60.50,50.60 L61.00,50.72 L61.50,50.75 L62.00,50.75 L62.50,50.75 L63.00,50.75 L63.50,50.75 L64.00,50.70 L64.50,50.57 L65.00,50.38 L65.50,50.13 L66.00,49.85 L66.50,49.55 L67.00,49.26 L67.50,48.99 L68.00,48.78 L68.50,48.63 L69.00,48.56 L69.50,48.56 L70.00,48.65 L70.50,48.81 L71.00,49.04 L71.50,49.31 L72.00,49.60 L72.50,49.90 L73.00,50.18 L73.50,50.42 L74.00,50.60 L74.50,50.72 L75.00,50.75 L75.50,50.75 L76.00,50.75 L76.50,50.75 L77.00,50.75 L77.50,50.70 L78.00,50.57 L78.50,50.38 L79.00,50.13 L79.50,49.85 L80.00,49.55 L80.50,49.26 L81.00,48.99 L81.50,48.78 L82.00,48.63 L82.50,48.56 L83.00,48.56 L83.50,48.65 L84.00,48.81 L84.50,49.04 L85.00,49.31 L85.50,49.60 L86.00,49.90 L86.50,50.18 L87.00,50.42 L87.50,50.60 L88.00,50.72 L88.50,50.75 L89.00,50.75 L89.50,50.75 L90.00,50.75 L90.50,50.75 L91.00,50.70 L91.50,50.57 L92.00,50.38 L92.50,50.13 L93.00,49.85 L93.50,49.55 L94.00,49.26 L94.50,48.99 L95.00,48.78 L95.50,48.63 L96.00,48.56 L96.50,48.56 L97.00,48.65 L97.50,48.81 L98.00,49.04 L98.50,49.31 L99.00,49.60 L99.50,49.90 L100.00,50.18 L100.50,50.42 L101.00,50.60 L101.50,50.72 L102.00,50.75 L102.50,50.75 L103.00,50.75 L103.50,50.75 L104.00,50.75 L104.50,50.70 L104.50,51.80 Z M51.50,56.95 L51.50,55.90 L52.00,55.90 L52.50,55.87 L53.00,55.77 L53.50,55.59 L54.00,55.35 L54.50,55.08 L55.00,54.78 L55.50,54.48 L56.00,54.21 L56.50,53.98 L57.00,53.81 L57.50,53.72 L58.00,53.70 L58.50,53.77 L59.00,53.91 L59.50,54.12 L60.00,54.38 L60.50,54.67 L61.00,54.97 L61.50,55.26 L62.00,55.51 L62.50,55.71 L63.00,55.84 L63.50,55.90 L64.00,55.90 L64.50,55.90 L65.00,55.90 L65.50,55.90 L66.00,55.87 L66.50,55.77 L67.00,55.59 L67.50,55.35 L68.00,55.08 L68.50,54.78 L69.00,54.48 L69.50,54.21 L70.00,53.98 L70.50,53.81 L71.00,53.72 L71.50,53.70 L72.00,53.77 L72.50,53.91 L73.00,54.12 L73.50,54.38 L74.00,54.67 L74.50,54.97 L75.00,55.26 L75.50,55.51 L76.00,55.71 L76.50,55.84 L77.00,55.90 L77.50,55.90 L78.00,55.90 L78.50,55.90 L79.00,55.90 L79.50,55.87 L80.00,55.77 L80.50,55.59 L81.00,55.35 L81.50,55.08 L82.00,54.78 L82.50,54.48 L83.00,54.21 L83.50,53.98 L84.00,53.81 L84.50,53.72 L85.00,53.70 L85.50,53.77 L86.00,53.91 L86.50,54.12 L87.00,54.38 L87.50,54.67 L88.00,54.97 L88.50,55.26 L89.00,55.51 L89.50,55.71 L90.00,55.84 L90.50,55.90 L91.00,55.90 L91.50,55.90 L92.00,55.90 L92.50,55.90 L93.00,55.87 L93.50,55.77 L94.00,55.59 L94.50,55.35 L95.00,55.08 L95.50,54.78 L96.00,54.48 L96.50,54.21 L97.00,53.98 L97.50,53.81 L98.00,53.72 L98.50,53.70 L99.00,53.77 L99.50,53.91 L100.00,54.12 L100.50,54.38 L101.00,54.67 L101.50,54.97 L102.00,55.26 L102.50,55.51 L103.00,55.71 L103.50,55.84 L104.00,55.90 L104.50,55.90 L104.50,56.95 Z M51.50,62.10 L51.50,61.05 L52.00,61.05 L52.50,60.98 L53.00,60.84 L53.50,60.63 L54.00,60.37 L54.50,60.08 L55.00,59.78 L55.50,59.49 L56.00,59.24 L56.50,59.04 L57.00,58.91 L57.50,58.85 L58.00,58.88 L58.50,58.98 L59.00,59.16 L59.50,59.40 L60.00,59.67 L60.50,59.97 L61.00,60.27 L61.50,60.54 L62.00,60.77 L62.50,60.94 L63.00,61.03 L63.50,61.05 L64.00,61.05 L64.50,61.05 L65.00,61.05 L65.50,61.05 L66.00,60.98 L66.50,60.84 L67.00,60.63 L67.50,60.37 L68.00,60.08 L68.50,59.78 L69.00,59.49 L69.50,59.24 L70.00,59.04 L70.50,58.91 L71.00,58.85 L71.50,58.88 L72.00,58.98 L72.50,59.16 L73.00,59.40 L73.50,59.67 L74.00,59.97 L74.50,60.27 L75.00,60.54 L75.50,60.77 L76.00,60.94 L76.50,61.03 L77.00,61.05 L77.50,61.05 L78.00,61.05 L78.50,61.05 L79.00,61.05 L79.50,60.98 L80.00,60.84 L80.50,60.63 L81.00,60.37 L81.50,60.08 L82.00,59.78 L82.50,59.49 L83.00,59.24 L83.50,59.04 L84.00,58.91 L84.50,58.85 L85.00,58.88 L85.50,58.98 L86.00,59.16 L86.50,59.40 L87.00,59.67 L87.50,59.97 L88.00,60.27 L88.50,60.54 L89.00,60.77 L89.50,60.94 L90.00,61.03 L90.50,61.05 L91.00,61.05 L91.50,61.05 L92.00,61.05 L92.50,61.05 L93.00,60.98 L93.50,60.84 L94.00,60.63 L94.50,60.37 L95.00,60.08 L95.50,59.78 L96.00,59.49 L96.50,59.24 L97.00,59.04 L97.50,58.91 L98.00,58.85 L98.50,58.88 L99.00,58.98 L99.50,59.16 L100.00,59.40 L100.50,59.67 L101.00,59.97 L101.50,60.27 L102.00,60.54 L102.50,60.77 L103.00,60.94 L103.50,61.03 L104.00,61.05 L104.50,61.05 L104.50,62.10 Z M51.50,67.25 L51.50,65.98 L52.00,65.77 L52.50,65.51 L53.00,65.21 L53.50,64.91 L54.00,64.63 L54.50,64.38 L55.00,64.18 L55.50,64.05 L56.00,64.00 L56.50,64.03 L57.00,64.14 L57.50,64.32 L58.00,64.56 L58.50,64.84 L59.00,65.14 L59.50,65.43 L60.00,65.70 L60.50,65.93 L61.00,66.09 L61.50,66.18 L62.00,66.20 L62.50,66.20 L63.00,66.20 L63.50,66.20 L64.00,66.19 L64.50,66.12 L65.00,65.98 L65.50,65.77 L66.00,65.51 L66.50,65.21 L67.00,64.91 L67.50,64.63 L68.00,64.38 L68.50,64.18 L69.00,64.05 L69.50,64.00 L70.00,64.03 L70.50,64.14 L71.00,64.32 L71.50,64.56 L72.00,64.84 L72.50,65.14 L73.00,65.43 L73.50,65.70 L74.00,65.93 L74.50,66.09 L75.00,66.18 L75.50,66.20 L76.00,66.20 L76.50,66.20 L77.00,66.20 L77.50,66.19 L78.00,66.12 L78.50,65.98 L79.00,65.77 L79.50,65.51 L80.00,65.21 L80.50,64.91 L81.00,64.63 L81.50,64.38 L82.00,64.18 L82.50,64.05 L83.00,64.00 L83.50,64.03 L84.00,64.14 L84.50,64.32 L85.00,64.56 L85.50,64.84 L86.00,65.14 L86.50,65.43 L87.00,65.70 L87.50,65.93 L88.00,66.09 L88.50,66.18 L89.00,66.20 L89.50,66.20 L90.00,66.20 L90.50,66.20 L91.00,66.19 L91.50,66.12 L92.00,65.98 L92.50,65.77 L93.00,65.51 L93.50,65.21 L94.00,64.91 L94.50,64.63 L95.00,64.38 L95.50,64.18 L96.00,64.05 L96.50,64.00 L97.00,64.03 L97.50,64.14 L98.00,64.32 L98.50,64.56 L99.00,64.84 L99.50,65.14 L100.00,65.43 L100.50,65.70 L101.00,65.93 L101.50,66.09 L102.00,66.18 L102.50,66.20 L103.00,66.20 L103.50,66.20 L104.00,66.20 L104.50,66.19 L104.50,67.25 Z M51.50,72.40 L51.50,71.31 L52.00,71.20 L52.50,71.02 L53.00,70.78 L53.50,70.50 L54.00,70.20 L54.50,69.90 L55.00,69.63 L55.50,69.41 L56.00,69.25 L56.50,69.16 L57.00,69.16 L57.50,69.23 L58.00,69.38 L58.50,69.60 L59.00,69.86 L59.50,70.15 L60.00,70.45 L60.50,70.74 L61.00,70.98 L61.50,71.18 L62.00,71.30 L62.50,71.35 L63.00,71.35 L63.50,71.35 L64.00,71.35 L64.50,71.35 L65.00,71.31 L65.50,71.20 L66.00,71.02 L66.50,70.78 L67.00,70.50 L67.50,70.20 L68.00,69.90 L68.50,69.63 L69.00,69.41 L69.50,69.25 L70.00,69.16 L70.50,69.16 L71.00,69.23 L71.50,69.38 L72.00,69.60 L72.50,69.86 L73.00,70.15 L73.50,70.45 L74.00,70.74 L74.50,70.98 L75.00,71.18 L75.50,71.30 L76.00,71.35 L76.50,71.35 L77.00,71.35 L77.50,71.35 L78.00,71.35 L78.50,71.31 L79.00,71.20 L79.50,71.02 L80.00,70.78 L80.50,70.50 L81.00,70.20 L81.50,69.90 L82.00,69.63 L82.50,69.41 L83.00,69.25 L83.50,69.16 L84.00,69.16 L84.50,69.23 L85.00,69.38 L85.50,69.60 L86.00,69.86 L86.50,70.15 L87.00,70.45 L87.50,70.74 L88.00,70.98 L88.50,71.18 L89.00,71.30 L89.50,71.35 L90.00,71.35 L90.50,71.35 L91.00,71.35 L91.50,71.35 L92.00,71.31 L92.50,71.20 L93.00,71.02 L93.50,70.78 L94.00,70.50 L94.50,70.20 L95.00,69.90 L95.50,69.63 L96.00,69.41 L96.50,69.25 L97.00,69.16 L97.50,69.16 L98.00,69.23 L98.50,69.38 L99.00,69.60 L99.50,69.86 L100.00,70.15 L100.50,70.45 L101.00,70.74 L101.50,70.98 L102.00,71.18 L102.50,71.30 L103.00,71.35 L103.50,71.35 L104.00,71.35 L104.50,71.35 L104.50,72.40 Z M51.50,77.55 L51.50,76.44 L52.00,76.31 L52.50,76.11 L53.00,75.85 L53.50,75.56 L54.00,75.26 L54.50,74.97 L55.00,74.72 L55.50,74.51 L56.00,74.37 L56.50,74.30 L57.00,74.32 L57.50,74.42 L58.00,74.59 L58.50,74.82 L59.00,75.09 L59.50,75.39 L60.00,75.68 L60.50,75.96 L61.00,76.19 L61.50,76.37 L62.00,76.47 L62.50,76.50 L63.00,76.50 L63.50,76.50 L64.00,76.50 L64.50,76.50 L65.00,76.44 L65.50,76.31 L66.00,76.11 L66.50,75.85 L67.00,75.56 L67.50,75.26 L68.00,74.97 L68.50,74.72 L69.00,74.51 L69.50,74.37 L70.00,74.30 L70.50,74.32 L71.00,74.42 L71.50,74.59 L72.00,74.82 L72.50,75.09 L73.00,75.39 L73.50,75.68 L74.00,75.96 L74.50,76.19 L75.00,76.37 L75.50,76.47 L76.00,76.50 L76.50,76.50 L77.00,76.50 L77.50,76.50 L78.00,76.50 L78.50,76.44 L79.00,76.31 L79.50,76.11 L80.00,75.85 L80.50,75.56 L81.00,75.26 L81.50,74.97 L82.00,74.72 L82.50,74.51 L83.00,74.37 L83.50,74.30 L84.00,74.32 L84.50,74.42 L85.00,74.59 L85.50,74.82 L86.00,75.09 L86.50,75.39 L87.00,75.68 L87.50,75.96 L88.00,76.19 L88.50,76.37 L89.00,76.47 L89.50,76.50 L90.00,76.50 L90.50,76.50 L91.00,76.50 L91.50,76.50 L92.00,76.44 L92.50,76.31 L93.00,76.11 L93.50,75.85 L94.00,75.56 L94.50,75.26 L95.00,74.97 L95.50,74.72 L96.00,74.51 L96.50,74.37 L97.00,74.30 L97.50,74.32 L98.00,74.42 L98.50,74.59 L99.00,74.82 L99.50,75.09 L100.00,75.39 L100.50,75.68 L101.00,75.96 L101.50,76.19 L102.00,76.37 L102.50,76.47 L103.00,76.50 L103.50,76.50 L104.00,76.50 L104.50,76.50 L104.50,77.55 Z M51.50,82.70 L51.50,81.65 L52.00,81.61 L52.50,81.49 L53.00,81.30 L53.50,81.06 L54.00,80.78 L54.50,80.48 L55.00,80.18 L55.50,79.92 L56.00,79.70 L56.50,79.54 L57.00,79.46 L57.50,79.46 L58.00,79.54 L58.50,79.69 L59.00,79.91 L59.50,80.18 L60.00,80.47 L60.50,80.77 L61.00,81.05 L61.50,81.30 L62.00,81.49 L62.50,81.61 L63.00,81.65 L63.50,81.65 L64.00,81.65 L64.50,81.65 L65.00,81.65 L65.50,81.61 L66.00,81.49 L66.50,81.30 L67.00,81.06 L67.50,80.78 L68.00,80.48 L68.50,80.18 L69.00,79.92 L69.50,79.70 L70.00,79.54 L70.50,79.46 L71.00,79.46 L71.50,79.54 L72.00,79.69 L72.50,79.91 L73.00,80.18 L73.50,80.47 L74.00,80.77 L74.50,81.05 L75.00,81.30 L75.50,81.49 L76.00,81.61 L76.50,81.65 L77.00,81.65 L77.50,81.65 L78.00,81.65 L78.50,81.65 L79.00,81.61 L79.50,81.49 L80.00,81.30 L80.50,81.06 L81.00,80.78 L81.50,80.48 L82.00,80.18 L82.50,79.92 L83.00,79.70 L83.50,79.54 L84.00,79.46 L84.50,79.46 L85.00,79.54 L85.50,79.69 L86.00,79.91 L86.50,80.18 L87.00,80.47 L87.50,80.77 L88.00,81.05 L88.50,81.30 L89.00,81.49 L89.50,81.61 L90.00,81.65 L90.50,81.65 L91.00,81.65 L91.50,81.65 L92.00,81.65 L92.50,81.61 L93.00,81.49 L93.50,81.30 L94.00,81.06 L94.50,80.78 L95.00,80.48 L95.50,80.18 L96.00,79.92 L96.50,79.70 L97.00,79.54 L97.50,79.46 L98.00,79.46 L98.50,79.54 L99.00,79.69 L99.50,79.91 L100.00,80.18 L100.50,80.47 L101.00,80.77 L101.50,81.05 L102.00,81.30 L102.50,81.49 L103.00,81.61 L103.50,81.65 L104.00,81.65 L104.50,81.65 L104.50,82.70 Z M51.50,87.85 L51.50,86.80 L52.00,86.80 L52.50,86.74 L53.00,86.61 L53.50,86.41 L54.00,86.16 L54.50,85.87 L55.00,85.57 L55.50,85.28 L56.00,85.03 L56.50,84.82 L57.00,84.67 L57.50,84.60 L58.00,84.62 L58.50,84.71 L59.00,84.88 L59.50,85.11 L60.00,85.38 L60.50,85.68 L61.00,85.97 L61.50,86.25 L62.00,86.49 L62.50,86.67 L63.00,86.77 L63.50,86.80 L64.00,86.80 L64.50,86.80 L65.00,86.80 L65.50,86.80 L66.00,86.74 L66.50,86.61 L67.00,86.41 L67.50,86.16 L68.00,85.87 L68.50,85.57 L69.00,85.28 L69.50,85.03 L70.00,84.82 L70.50,84.67 L71.00,84.60 L71.50,84.62 L72.00,84.71 L72.50,84.88 L73.00,85.11 L73.50,85.38 L74.00,85.68 L74.50,85.97 L75.00,86.25 L75.50,86.49 L76.00,86.67 L76.50,86.77 L77.00,86.80 L77.50,86.80 L78.00,86.80 L78.50,86.80 L79.00,86.80 L79.50,86.74 L80.00,86.61 L80.50,86.41 L81.00,86.16 L81.50,85.87 L82.00,85.57 L82.50,85.28 L83.00,85.03 L83.50,84.82 L84.00,84.67 L84.50,84.60 L85.00,84.62 L85.50,84.71 L86.00,84.88 L86.50,85.11 L87.00,85.38 L87.50,85.68 L88.00,85.97 L88.50,86.25 L89.00,86.49 L89.50,86.67 L90.00,86.77 L90.50,86.80 L91.00,86.80 L91.50,86.80 L92.00,86.80 L92.50,86.80 L93.00,86.74 L93.50,86.61 L94.00,86.41 L94.50,86.16 L95.00,85.87 L95.50,85.57 L96.00,85.28 L96.50,85.03 L97.00,84.82 L97.50,84.67 L98.00,84.60 L98.50,84.62 L99.00,84.71 L99.50,84.88 L100.00,85.11 L100.50,85.38 L101.00,85.68 L101.50,85.97 L102.00,86.25 L102.50,86.49 L103.00,86.67 L103.50,86.77 L104.00,86.80 L104.50,86.80 L104.50,87.85 Z M51.50,93.00 L51.50,91.52 L52.00,91.26 L52.50,90.97 L53.00,90.67 L53.50,90.39 L54.00,90.14 L54.50,89.94 L55.00,89.81 L55.50,89.75 L56.00,89.78 L56.50,89.89 L57.00,90.06 L57.50,90.30 L58.00,90.58 L58.50,90.88 L59.00,91.17 L59.50,91.44 L60.00,91.67 L60.50,91.84 L61.00,91.93 L61.50,91.95 L62.00,91.95 L62.50,91.95 L63.00,91.95 L63.50,91.95 L64.00,91.88 L64.50,91.73 L65.00,91.52 L65.50,91.26 L66.00,90.97 L66.50,90.67 L67.00,90.39 L67.50,90.14 L68.00,89.94 L68.50,89.81 L69.00,89.75 L69.50,89.78 L70.00,89.89 L70.50,90.06 L71.00,90.30 L71.50,90.58 L72.00,90.88 L72.50,91.17 L73.00,91.44 L73.50,91.67 L74.00,91.84 L74.50,91.93 L75.00,91.95 L75.50,91.95 L76.00,91.95 L76.50,91.95 L77.00,91.95 L77.50,91.88 L78.00,91.73 L78.50,91.52 L79.00,91.26 L79.50,90.97 L80.00,90.67 L80.50,90.39 L81.00,90.14 L81.50,89.94 L82.00,89.81 L82.50,89.75 L83.00,89.78 L83.50,89.89 L84.00,90.06 L84.50,90.30 L85.00,90.58 L85.50,90.88 L86.00,91.17 L86.50,91.44 L87.00,91.67 L87.50,91.84 L88.00,91.93 L88.50,91.95 L89.00,91.95 L89.50,91.95 L90.00,91.95 L90.50,91.95 L91.00,91.88 L91.50,91.73 L92.00,91.52 L92.50,91.26 L93.00,90.97 L93.50,90.67 L94.00,90.39 L94.50,90.14 L95.00,89.94 L95.50,89.81 L96.00,89.75 L96.50,89.78 L97.00,89.89 L97.50,90.06 L98.00,90.30 L98.50,90.58 L99.00,90.88 L99.50,91.17 L100.00,91.44 L100.50,91.67 L101.00,91.84 L101.50,91.93 L102.00,91.95 L102.50,91.95 L103.00,91.95 L103.50,91.95 L104.00,91.95 L104.50,91.88 L104.50,93.00 Z M51.50,98.15 L51.50,96.58 L52.00,96.30 L52.50,96.01 L53.00,95.71 L53.50,95.43 L54.00,95.20 L54.50,95.03 L55.00,94.92 L55.50,94.90 L56.00,94.96 L56.50,95.10 L57.00,95.30 L57.50,95.56 L58.00,95.84 L58.50,96.14 L59.00,96.43 L59.50,96.69 L60.00,96.90 L60.50,97.03 L61.00,97.10 L61.50,97.10 L62.00,97.10 L62.50,97.10 L63.00,97.10 L63.50,97.08 L64.00,96.98 L64.50,96.81 L65.00,96.58 L65.50,96.30 L66.00,96.01 L66.50,95.71 L67.00,95.43 L67.50,95.20 L68.00,95.03 L68.50,94.92 L69.00,94.90 L69.50,94.96 L70.00,95.10 L70.50,95.30 L71.00,95.56 L71.50,95.84 L72.00,96.14 L72.50,96.43 L73.00,96.69 L73.50,96.90 L74.00,97.03 L74.50,97.10 L75.00,97.10 L75.50,97.10 L76.00,97.10 L76.50,97.10 L77.00,97.08 L77.50,96.98 L78.00,96.81 L78.50,96.58 L79.00,96.30 L79.50,96.01 L80.00,95.71 L80.50,95.43 L81.00,95.20 L81.50,95.03 L82.00,94.92 L82.50,94.90 L83.00,94.96 L83.50,95.10 L84.00,95.30 L84.50,95.56 L85.00,95.84 L85.50,96.14 L86.00,96.43 L86.50,96.69 L87.00,96.90 L87.50,97.03 L88.00,97.10 L88.50,97.10 L89.00,97.10 L89.50,97.10 L90.00,97.10 L90.50,97.08 L91.00,96.98 L91.50,96.81 L92.00,96.58 L92.50,96.30 L93.00,96.01 L93.50,95.71 L94.00,95.43 L94.50,95.20 L95.00,95.03 L95.50,94.92 L96.00,94.90 L96.50,94.96 L97.00,95.10 L97.50,95.30 L98.00,95.56 L98.50,95.84 L99.00,96.14 L99.50,96.43 L100.00,96.69 L100.50,96.90 L101.00,97.03 L101.50,97.10 L102.00,97.10 L102.50,97.10 L103.00,97.10 L103.50,97.10 L104.00,97.08 L104.50,96.98 L104.50,98.15 Z M51.50,103.30 L51.50,102.25 L52.00,102.25 L52.50,102.22 L53.00,102.11 L53.50,101.93 L54.00,101.69 L54.50,101.41 L55.00,101.11 L55.50,100.81 L56.00,100.54 L56.50,100.32 L57.00,100.16 L57.50,100.07 L58.00,100.06 L58.50,100.13 L59.00,100.28 L59.50,100.49 L60.00,100.75 L60.50,101.04 L61.00,101.34 L61.50,101.63 L62.00,101.88 L62.50,102.07 L63.00,102.20 L63.50,102.25 L64.00,102.25 L64.50,102.25 L65.00,102.25 L65.50,102.25 L66.00,102.22 L66.50,102.11 L67.00,101.93 L67.50,101.69 L68.00,101.41 L68.50,101.11 L69.00,100.81 L69.50,100.54 L70.00,100.32 L70.50,100.16 L71.00,100.07 L71.50,100.06 L72.00,100.13 L72.50,100.28 L73.00,100.49 L73.50,100.75 L74.00,101.04 L74.50,101.34 L75.00,101.63 L75.50,101.88 L76.00,102.07 L76.50,102.20 L77.00,102.25 L77.50,102.25 L78.00,102.25 L78.50,102.25 L79.00,102.25 L79.50,102.22 L80.00,102.11 L80.50,101.93 L81.00,101.69 L81.50,101.41 L82.00,101.11 L82.50,100.81 L83.00,100.54 L83.50,100.32 L84.00,100.16 L84.50,100.07 L85.00,100.06 L85.50,100.13 L86.00,100.28 L86.50,100.49 L87.00,100.75 L87.50,101.04 L88.00,101.34 L88.50,101.63 L89.00,101.88 L89.50,102.07 L90.00,102.20 L90.50,102.25 L91.00,102.25 L91.50,102.25 L92.00,102.25 L92.50,102.25 L93.00,102.22 L93.50,102.11 L94.00,101.93 L94.50,101.69 L95.00,101.41 L95.50,101.11 L96.00,100.81 L96.50,100.54 L97.00,100.32 L97.50,100.16 L98.00,100.07 L98.50,100.06 L99.00,100.13 L99.50,100.28 L100.00,100.49 L100.50,100.75 L101.00,101.04 L101.50,101.34 L102.00,101.63 L102.50,101.88 L103.00,102.07 L103.50,102.20 L104.00,102.25 L104.50,102.25 L104.50,103.30 Z" fill="#0000ee"/><path d="M51.50,52.05 H104.50 M51.50,57.20 H104.50 M51.50,62.35 H104.50 M51.50,67.50 H104.50 M51.50,72.65 H104.50 M51.50,77.80 H104.50 M51.50,82.95 H104.50 M51.50,88.10 H104.50 M51.50,93.25 H104.50 M51.50,98.40 H104.50 M51.50,103.55 H104.50" stroke="#9c8a62" stroke-width="0.5" fill="none"/></g>
<rect x="51.5" y="44.5" width="53" height="79.5" fill="none" stroke="#444" stroke-width="1"/>
<text x="78.4" y="119" font-size="11" text-anchor="middle" fill="#2a2a2a">Si</text>
</g>
<path d="M110.2,58.9 H122" stroke="#0000ff" stroke-width="2.3"/>
<path d="M120.9,55.3 L127.8,58.9 L120.9,62.5 Z" fill="#0000ff"/>
<rect x="120.5" y="120.5" width="52.5" height="79.5" fill="#d7b470"/>
<path d="M120.50,153.60 L120.50,152.00 L121.00,152.00 L121.50,152.00 L122.00,152.00 L122.50,151.98 L123.00,151.86 L123.50,151.65 L124.00,151.37 L124.50,151.04 L125.00,150.69 L125.50,150.37 L126.00,150.10 L126.50,149.90 L127.00,149.81 L127.50,149.82 L128.00,149.94 L128.50,150.15 L129.00,150.43 L129.50,150.76 L130.00,151.11 L130.50,151.43 L131.00,151.70 L131.50,151.90 L132.00,151.99 L132.50,152.00 L133.00,152.00 L133.50,152.00 L134.00,152.00 L134.50,152.00 L135.00,152.00 L135.50,151.95 L136.00,151.79 L136.50,151.55 L137.00,151.24 L137.50,150.90 L138.00,150.56 L138.50,150.25 L139.00,150.01 L139.50,149.85 L140.00,149.80 L140.50,149.85 L141.00,150.01 L141.50,150.25 L142.00,150.56 L142.50,150.90 L143.00,151.24 L143.50,151.55 L144.00,151.79 L144.50,151.95 L145.00,152.00 L145.50,152.00 L146.00,152.00 L146.50,152.00 L147.00,152.00 L147.50,152.00 L148.00,151.99 L148.50,151.90 L149.00,151.70 L149.50,151.43 L150.00,151.11 L150.50,150.76 L151.00,150.43 L151.50,150.15 L152.00,149.94 L152.50,149.82 L153.00,149.81 L153.50,149.90 L154.00,150.10 L154.50,150.37 L155.00,150.69 L155.50,151.04 L156.00,151.37 L156.50,151.65 L157.00,151.86 L157.50,151.98 L158.00,152.00 L158.50,152.00 L159.00,152.00 L159.50,152.00 L160.00,152.00 L160.50,152.00 L161.00,151.97 L161.50,151.83 L162.00,151.60 L162.50,151.30 L163.00,150.97 L163.50,150.63 L164.00,150.31 L164.50,150.05 L165.00,149.88 L165.50,149.80 L166.00,149.83 L166.50,149.97 L167.00,150.20 L167.50,150.50 L168.00,150.83 L168.50,151.17 L169.00,151.49 L169.50,151.75 L170.00,151.92 L170.50,152.00 L171.00,152.00 L171.50,152.00 L172.00,152.00 L172.50,152.00 L173.00,152.00 L173.00,153.60 Z" fill="#0000ee"/>
<line x1="120.5" y1="153.8" x2="173" y2="153.8" stroke="#6a6050" stroke-width="0.6"/>
<rect x="120.5" y="120.5" width="52.5" height="79.5" fill="none" stroke="#444" stroke-width="1"/>
<path d="M173.5,152.8 C180,153 184,158 185.2,170 L186.7,205" fill="none" stroke="#808080" stroke-width="1.7"/>
<path d="M183.8,205 L186.8,210.8 L189.8,205 Z" fill="#808080"/>
<g>
<rect x="214" y="131.3" width="53.5" height="79" fill="#d7b470"/>
<g clip-path="url(#c3)"><path d="M214.00,138.90 L214.00,137.75 L214.50,137.75 L215.00,137.68 L215.50,137.52 L216.00,137.34 L216.50,137.15 L217.00,136.96 L217.50,136.76 L218.00,136.55 L218.50,136.34 L219.00,136.12 L219.50,135.90 L220.00,135.68 L220.50,135.45 L221.00,135.48 L221.50,135.71 L222.00,135.93 L222.50,136.15 L223.00,136.37 L223.50,136.58 L224.00,136.79 L224.50,136.99 L225.00,137.18 L225.50,137.37 L226.00,137.54 L226.50,137.70 L227.00,137.75 L227.50,137.75 L228.00,137.75 L228.50,137.75 L229.00,137.75 L229.50,137.75 L230.00,137.75 L230.50,137.75 L231.00,137.75 L231.50,137.75 L232.00,137.75 L232.50,137.75 L233.00,137.68 L233.50,137.52 L234.00,137.34 L234.50,137.15 L235.00,136.96 L235.50,136.76 L236.00,136.55 L236.50,136.34 L237.00,136.12 L237.50,135.90 L238.00,135.68 L238.50,135.45 L239.00,135.48 L239.50,135.71 L240.00,135.93 L240.50,136.15 L241.00,136.37 L241.50,136.58 L242.00,136.79 L242.50,136.99 L243.00,137.18 L243.50,137.37 L244.00,137.54 L244.50,137.70 L245.00,137.75 L245.50,137.75 L246.00,137.75 L246.50,137.75 L247.00,137.75 L247.50,137.75 L248.00,137.75 L248.50,137.75 L249.00,137.75 L249.50,137.75 L250.00,137.75 L250.50,137.75 L251.00,137.68 L251.50,137.52 L252.00,137.34 L252.50,137.15 L253.00,136.96 L253.50,136.76 L254.00,136.55 L254.50,136.34 L255.00,136.12 L255.50,135.90 L256.00,135.68 L256.50,135.45 L257.00,135.48 L257.50,135.71 L258.00,135.93 L258.50,136.15 L259.00,136.37 L259.50,136.58 L260.00,136.79 L260.50,136.99 L261.00,137.18 L261.50,137.37 L262.00,137.54 L262.50,137.70 L263.00,137.75 L263.50,137.75 L264.00,137.75 L264.50,137.75 L265.00,137.75 L265.50,137.75 L266.00,137.75 L266.50,137.75 L267.00,137.75 L267.50,137.75 L267.50,138.90 Z M214.00,144.05 L214.00,142.90 L214.50,142.90 L215.00,142.90 L215.50,142.90 L216.00,142.80 L216.50,142.64 L217.00,142.46 L217.50,142.27 L218.00,142.08 L218.50,141.87 L219.00,141.66 L219.50,141.45 L220.00,141.23 L220.50,141.01 L221.00,140.79 L221.50,140.56 L222.00,140.67 L222.50,140.89 L223.00,141.12 L223.50,141.34 L224.00,141.55 L224.50,141.76 L225.00,141.97 L225.50,142.17 L226.00,142.36 L226.50,142.55 L227.00,142.72 L227.50,142.87 L228.00,142.90 L228.50,142.90 L229.00,142.90 L229.50,142.90 L230.00,142.90 L230.50,142.90 L231.00,142.90 L231.50,142.90 L232.00,142.90 L232.50,142.90 L233.00,142.90 L233.50,142.90 L234.00,142.80 L234.50,142.64 L235.00,142.46 L235.50,142.27 L236.00,142.08 L236.50,141.87 L237.00,141.66 L237.50,141.45 L238.00,141.23 L238.50,141.01 L239.00,140.79 L239.50,140.56 L240.00,140.67 L240.50,140.89 L241.00,141.12 L241.50,141.34 L242.00,141.55 L242.50,141.76 L243.00,141.97 L243.50,142.17 L244.00,142.36 L244.50,142.55 L245.00,142.72 L245.50,142.87 L246.00,142.90 L246.50,142.90 L247.00,142.90 L247.50,142.90 L248.00,142.90 L248.50,142.90 L249.00,142.90 L249.50,142.90 L250.00,142.90 L250.50,142.90 L251.00,142.90 L251.50,142.90 L252.00,142.80 L252.50,142.64 L253.00,142.46 L253.50,142.27 L254.00,142.08 L254.50,141.87 L255.00,141.66 L255.50,141.45 L256.00,141.23 L256.50,141.01 L257.00,140.79 L257.50,140.56 L258.00,140.67 L258.50,140.89 L259.00,141.12 L259.50,141.34 L260.00,141.55 L260.50,141.76 L261.00,141.97 L261.50,142.17 L262.00,142.36 L262.50,142.55 L263.00,142.72 L263.50,142.87 L264.00,142.90 L264.50,142.90 L265.00,142.90 L265.50,142.90 L266.00,142.90 L266.50,142.90 L267.00,142.90 L267.50,142.90 L267.50,144.05 Z M214.00,149.20 L214.00,148.05 L214.50,148.05 L215.00,148.05 L215.50,147.95 L216.00,147.78 L216.50,147.60 L217.00,147.41 L217.50,147.22 L218.00,147.01 L218.50,146.81 L219.00,146.59 L219.50,146.37 L220.00,146.15 L220.50,145.93 L221.00,145.70 L221.50,145.83 L222.00,146.05 L222.50,146.28 L223.00,146.50 L223.50,146.71 L224.00,146.92 L224.50,147.13 L225.00,147.33 L225.50,147.52 L226.00,147.71 L226.50,147.88 L227.00,148.03 L227.50,148.05 L228.00,148.05 L228.50,148.05 L229.00,148.05 L229.50,148.05 L230.00,148.05 L230.50,148.05 L231.00,148.05 L231.50,148.05 L232.00,148.05 L232.50,148.05 L233.00,148.05 L233.50,147.95 L234.00,147.78 L234.50,147.60 L235.00,147.41 L235.50,147.22 L236.00,147.01 L236.50,146.81 L237.00,146.59 L237.50,146.37 L238.00,146.15 L238.50,145.93 L239.00,145.70 L239.50,145.83 L240.00,146.05 L240.50,146.28 L241.00,146.50 L241.50,146.71 L242.00,146.92 L242.50,147.13 L243.00,147.33 L243.50,147.52 L244.00,147.71 L244.50,147.88 L245.00,148.03 L245.50,148.05 L246.00,148.05 L246.50,148.05 L247.00,148.05 L247.50,148.05 L248.00,148.05 L248.50,148.05 L249.00,148.05 L249.50,148.05 L250.00,148.05 L250.50,148.05 L251.00,148.05 L251.50,147.95 L252.00,147.78 L252.50,147.60 L253.00,147.41 L253.50,147.22 L254.00,147.01 L254.50,146.81 L255.00,146.59 L255.50,146.37 L256.00,146.15 L256.50,145.93 L257.00,145.70 L257.50,145.83 L258.00,146.05 L258.50,146.28 L259.00,146.50 L259.50,146.71 L260.00,146.92 L260.50,147.13 L261.00,147.33 L261.50,147.52 L262.00,147.71 L262.50,147.88 L263.00,148.03 L263.50,148.05 L264.00,148.05 L264.50,148.05 L265.00,148.05 L265.50,148.05 L266.00,148.05 L266.50,148.05 L267.00,148.05 L267.50,148.05 L267.50,149.20 Z M214.00,154.35 L214.00,153.20 L214.50,153.20 L215.00,153.20 L215.50,153.20 L216.00,153.16 L216.50,153.00 L217.00,152.83 L217.50,152.64 L218.00,152.45 L218.50,152.25 L219.00,152.04 L219.50,151.83 L220.00,151.61 L220.50,151.39 L221.00,151.17 L221.50,150.94 L222.00,150.89 L222.50,151.11 L223.00,151.34 L223.50,151.56 L224.00,151.78 L224.50,151.99 L225.00,152.20 L225.50,152.40 L226.00,152.59 L226.50,152.78 L227.00,152.96 L227.50,153.12 L228.00,153.20 L228.50,153.20 L229.00,153.20 L229.50,153.20 L230.00,153.20 L230.50,153.20 L231.00,153.20 L231.50,153.20 L232.00,153.20 L232.50,153.20 L233.00,153.20 L233.50,153.20 L234.00,153.16 L234.50,153.00 L235.00,152.83 L235.50,152.64 L236.00,152.45 L236.50,152.25 L237.00,152.04 L237.50,151.83 L238.00,151.61 L238.50,151.39 L239.00,151.17 L239.50,150.94 L240.00,150.89 L240.50,151.11 L241.00,151.34 L241.50,151.56 L242.00,151.78 L242.50,151.99 L243.00,152.20 L243.50,152.40 L244.00,152.59 L244.50,152.78 L245.00,152.96 L245.50,153.12 L246.00,153.20 L246.50,153.20 L247.00,153.20 L247.50,153.20 L248.00,153.20 L248.50,153.20 L249.00,153.20 L249.50,153.20 L250.00,153.20 L250.50,153.20 L251.00,153.20 L251.50,153.20 L252.00,153.16 L252.50,153.00 L253.00,152.83 L253.50,152.64 L254.00,152.45 L254.50,152.25 L255.00,152.04 L255.50,151.83 L256.00,151.61 L256.50,151.39 L257.00,151.17 L257.50,150.94 L258.00,150.89 L258.50,151.11 L259.00,151.34 L259.50,151.56 L260.00,151.78 L260.50,151.99 L261.00,152.20 L261.50,152.40 L262.00,152.59 L262.50,152.78 L263.00,152.96 L263.50,153.12 L264.00,153.20 L264.50,153.20 L265.00,153.20 L265.50,153.20 L266.00,153.20 L266.50,153.20 L267.00,153.20 L267.50,153.20 L267.50,154.35 Z M214.00,159.50 L214.00,158.35 L214.50,158.35 L215.00,158.35 L215.50,158.35 L216.00,158.32 L216.50,158.17 L217.00,158.00 L217.50,157.82 L218.00,157.62 L218.50,157.42 L219.00,157.22 L219.50,157.01 L220.00,156.79 L220.50,156.57 L221.00,156.35 L221.50,156.12 L222.00,156.01 L222.50,156.23 L223.00,156.46 L223.50,156.68 L224.00,156.90 L224.50,157.11 L225.00,157.32 L225.50,157.52 L226.00,157.72 L226.50,157.91 L227.00,158.09 L227.50,158.25 L228.00,158.35 L228.50,158.35 L229.00,158.35 L229.50,158.35 L230.00,158.35 L230.50,158.35 L231.00,158.35 L231.50,158.35 L232.00,158.35 L232.50,158.35 L233.00,158.35 L233.50,158.35 L234.00,158.32 L234.50,158.17 L235.00,158.00 L235.50,157.82 L236.00,157.62 L236.50,157.42 L237.00,157.22 L237.50,157.01 L238.00,156.79 L238.50,156.57 L239.00,156.35 L239.50,156.12 L240.00,156.01 L240.50,156.23 L241.00,156.46 L241.50,156.68 L242.00,156.90 L242.50,157.11 L243.00,157.32 L243.50,157.52 L244.00,157.72 L244.50,157.91 L245.00,158.09 L245.50,158.25 L246.00,158.35 L246.50,158.35 L247.00,158.35 L247.50,158.35 L248.00,158.35 L248.50,158.35 L249.00,158.35 L249.50,158.35 L250.00,158.35 L250.50,158.35 L251.00,158.35 L251.50,158.35 L252.00,158.32 L252.50,158.17 L253.00,158.00 L253.50,157.82 L254.00,157.62 L254.50,157.42 L255.00,157.22 L255.50,157.01 L256.00,156.79 L256.50,156.57 L257.00,156.35 L257.50,156.12 L258.00,156.01 L258.50,156.23 L259.00,156.46 L259.50,156.68 L260.00,156.90 L260.50,157.11 L261.00,157.32 L261.50,157.52 L262.00,157.72 L262.50,157.91 L263.00,158.09 L263.50,158.25 L264.00,158.35 L264.50,158.35 L265.00,158.35 L265.50,158.35 L266.00,158.35 L266.50,158.35 L267.00,158.35 L267.50,158.35 L267.50,159.50 Z M214.00,164.65 L214.00,163.50 L214.50,163.42 L215.00,163.26 L215.50,163.09 L216.00,162.90 L216.50,162.70 L217.00,162.50 L217.50,162.29 L218.00,162.08 L218.50,161.86 L219.00,161.64 L219.50,161.42 L220.00,161.19 L220.50,161.24 L221.00,161.47 L221.50,161.69 L222.00,161.91 L222.50,162.12 L223.00,162.34 L223.50,162.54 L224.00,162.74 L224.50,162.94 L225.00,163.12 L225.50,163.30 L226.00,163.45 L226.50,163.50 L227.00,163.50 L227.50,163.50 L228.00,163.50 L228.50,163.50 L229.00,163.50 L229.50,163.50 L230.00,163.50 L230.50,163.50 L231.00,163.50 L231.50,163.50 L232.00,163.50 L232.50,163.42 L233.00,163.26 L233.50,163.09 L234.00,162.90 L234.50,162.70 L235.00,162.50 L235.50,162.29 L236.00,162.08 L236.50,161.86 L237.00,161.64 L237.50,161.42 L238.00,161.19 L238.50,161.24 L239.00,161.47 L239.50,161.69 L240.00,161.91 L240.50,162.12 L241.00,162.34 L241.50,162.54 L242.00,162.74 L242.50,162.94 L243.00,163.12 L243.50,163.30 L244.00,163.45 L244.50,163.50 L245.00,163.50 L245.50,163.50 L246.00,163.50 L246.50,163.50 L247.00,163.50 L247.50,163.50 L248.00,163.50 L248.50,163.50 L249.00,163.50 L249.50,163.50 L250.00,163.50 L250.50,163.42 L251.00,163.26 L251.50,163.09 L252.00,162.90 L252.50,162.70 L253.00,162.50 L253.50,162.29 L254.00,162.08 L254.50,161.86 L255.00,161.64 L255.50,161.42 L256.00,161.19 L256.50,161.24 L257.00,161.47 L257.50,161.69 L258.00,161.91 L258.50,162.12 L259.00,162.34 L259.50,162.54 L260.00,162.74 L260.50,162.94 L261.00,163.12 L261.50,163.30 L262.00,163.45 L262.50,163.50 L263.00,163.50 L263.50,163.50 L264.00,163.50 L264.50,163.50 L265.00,163.50 L265.50,163.50 L266.00,163.50 L266.50,163.50 L267.00,163.50 L267.50,163.50 L267.50,164.65 Z M214.00,169.80 L214.00,168.65 L214.50,168.52 L215.00,168.36 L215.50,168.18 L216.00,167.99 L216.50,167.79 L217.00,167.58 L217.50,167.38 L218.00,167.16 L218.50,166.94 L219.00,166.72 L219.50,166.50 L220.00,166.27 L220.50,166.46 L221.00,166.69 L221.50,166.91 L222.00,167.13 L222.50,167.34 L223.00,167.55 L223.50,167.76 L224.00,167.96 L224.50,168.15 L225.00,168.33 L225.50,168.50 L226.00,168.64 L226.50,168.65 L227.00,168.65 L227.50,168.65 L228.00,168.65 L228.50,168.65 L229.00,168.65 L229.50,168.65 L230.00,168.65 L230.50,168.65 L231.00,168.65 L231.50,168.65 L232.00,168.65 L232.50,168.52 L233.00,168.36 L233.50,168.18 L234.00,167.99 L234.50,167.79 L235.00,167.58 L235.50,167.38 L236.00,167.16 L236.50,166.94 L237.00,166.72 L237.50,166.50 L238.00,166.27 L238.50,166.46 L239.00,166.69 L239.50,166.91 L240.00,167.13 L240.50,167.34 L241.00,167.55 L241.50,167.76 L242.00,167.96 L242.50,168.15 L243.00,168.33 L243.50,168.50 L244.00,168.64 L244.50,168.65 L245.00,168.65 L245.50,168.65 L246.00,168.65 L246.50,168.65 L247.00,168.65 L247.50,168.65 L248.00,168.65 L248.50,168.65 L249.00,168.65 L249.50,168.65 L250.00,168.65 L250.50,168.52 L251.00,168.36 L251.50,168.18 L252.00,167.99 L252.50,167.79 L253.00,167.58 L253.50,167.38 L254.00,167.16 L254.50,166.94 L255.00,166.72 L255.50,166.50 L256.00,166.27 L256.50,166.46 L257.00,166.69 L257.50,166.91 L258.00,167.13 L258.50,167.34 L259.00,167.55 L259.50,167.76 L260.00,167.96 L260.50,168.15 L261.00,168.33 L261.50,168.50 L262.00,168.64 L262.50,168.65 L263.00,168.65 L263.50,168.65 L264.00,168.65 L264.50,168.65 L265.00,168.65 L265.50,168.65 L266.00,168.65 L266.50,168.65 L267.00,168.65 L267.50,168.65 L267.50,169.80 Z M214.00,174.95 L214.00,173.80 L214.50,173.80 L215.00,173.80 L215.50,173.80 L216.00,173.80 L216.50,173.80 L217.00,173.67 L217.50,173.50 L218.00,173.32 L218.50,173.13 L219.00,172.93 L219.50,172.72 L220.00,172.51 L220.50,172.30 L221.00,172.08 L221.50,171.86 L222.00,171.63 L222.50,171.41 L223.00,171.62 L223.50,171.85 L224.00,172.07 L224.50,172.29 L225.00,172.50 L225.50,172.71 L226.00,172.92 L226.50,173.12 L227.00,173.31 L227.50,173.49 L228.00,173.66 L228.50,173.80 L229.00,173.80 L229.50,173.80 L230.00,173.80 L230.50,173.80 L231.00,173.80 L231.50,173.80 L232.00,173.80 L232.50,173.80 L233.00,173.80 L233.50,173.80 L234.00,173.80 L234.50,173.80 L235.00,173.67 L235.50,173.50 L236.00,173.32 L236.50,173.13 L237.00,172.93 L237.50,172.72 L238.00,172.51 L238.50,172.30 L239.00,172.08 L239.50,171.86 L240.00,171.63 L240.50,171.41 L241.00,171.62 L241.50,171.85 L242.00,172.07 L242.50,172.29 L243.00,172.50 L243.50,172.71 L244.00,172.92 L244.50,173.12 L245.00,173.31 L245.50,173.49 L246.00,173.66 L246.50,173.80 L247.00,173.80 L247.50,173.80 L248.00,173.80 L248.50,173.80 L249.00,173.80 L249.50,173.80 L250.00,173.80 L250.50,173.80 L251.00,173.80 L251.50,173.80 L252.00,173.80 L252.50,173.80 L253.00,173.67 L253.50,173.50 L254.00,173.32 L254.50,173.13 L255.00,172.93 L255.50,172.72 L256.00,172.51 L256.50,172.30 L257.00,172.08 L257.50,171.86 L258.00,171.63 L258.50,171.41 L259.00,171.62 L259.50,171.85 L260.00,172.07 L260.50,172.29 L261.00,172.50 L261.50,172.71 L262.00,172.92 L262.50,173.12 L263.00,173.31 L263.50,173.49 L264.00,173.66 L264.50,173.80 L265.00,173.80 L265.50,173.80 L266.00,173.80 L266.50,173.80 L267.00,173.80 L267.50,173.80 L267.50,174.95 Z M214.00,180.10 L214.00,178.95 L214.50,178.95 L215.00,178.90 L215.50,178.74 L216.00,178.57 L216.50,178.38 L217.00,178.18 L217.50,177.98 L218.00,177.78 L218.50,177.56 L219.00,177.35 L219.50,177.13 L220.00,176.90 L220.50,176.68 L221.00,176.65 L221.50,176.88 L222.00,177.10 L222.50,177.32 L223.00,177.54 L223.50,177.75 L224.00,177.96 L224.50,178.16 L225.00,178.36 L225.50,178.54 L226.00,178.72 L226.50,178.88 L227.00,178.95 L227.50,178.95 L228.00,178.95 L228.50,178.95 L229.00,178.95 L229.50,178.95 L230.00,178.95 L230.50,178.95 L231.00,178.95 L231.50,178.95 L232.00,178.95 L232.50,178.95 L233.00,178.90 L233.50,178.74 L234.00,178.57 L234.50,178.38 L235.00,178.18 L235.50,177.98 L236.00,177.78 L236.50,177.56 L237.00,177.35 L237.50,177.13 L238.00,176.90 L238.50,176.68 L239.00,176.65 L239.50,176.88 L240.00,177.10 L240.50,177.32 L241.00,177.54 L241.50,177.75 L242.00,177.96 L242.50,178.16 L243.00,178.36 L243.50,178.54 L244.00,178.72 L244.50,178.88 L245.00,178.95 L245.50,178.95 L246.00,178.95 L246.50,178.95 L247.00,178.95 L247.50,178.95 L248.00,178.95 L248.50,178.95 L249.00,178.95 L249.50,178.95 L250.00,178.95 L250.50,178.95 L251.00,178.90 L251.50,178.74 L252.00,178.57 L252.50,178.38 L253.00,178.18 L253.50,177.98 L254.00,177.78 L254.50,177.56 L255.00,177.35 L255.50,177.13 L256.00,176.90 L256.50,176.68 L257.00,176.65 L257.50,176.88 L258.00,177.10 L258.50,177.32 L259.00,177.54 L259.50,177.75 L260.00,177.96 L260.50,178.16 L261.00,178.36 L261.50,178.54 L262.00,178.72 L262.50,178.88 L263.00,178.95 L263.50,178.95 L264.00,178.95 L264.50,178.95 L265.00,178.95 L265.50,178.95 L266.00,178.95 L266.50,178.95 L267.00,178.95 L267.50,178.95 L267.50,180.10 Z M214.00,185.25 L214.00,184.10 L214.50,184.10 L215.00,184.02 L215.50,183.86 L216.00,183.69 L216.50,183.50 L217.00,183.30 L217.50,183.10 L218.00,182.89 L218.50,182.68 L219.00,182.47 L219.50,182.24 L220.00,182.02 L220.50,181.79 L221.00,181.84 L221.50,182.06 L222.00,182.29 L222.50,182.51 L223.00,182.72 L223.50,182.93 L224.00,183.14 L224.50,183.34 L225.00,183.54 L225.50,183.72 L226.00,183.90 L226.50,184.05 L227.00,184.10 L227.50,184.10 L228.00,184.10 L228.50,184.10 L229.00,184.10 L229.50,184.10 L230.00,184.10 L230.50,184.10 L231.00,184.10 L231.50,184.10 L232.00,184.10 L232.50,184.10 L233.00,184.02 L233.50,183.86 L234.00,183.69 L234.50,183.50 L235.00,183.30 L235.50,183.10 L236.00,182.89 L236.50,182.68 L237.00,182.47 L237.50,182.24 L238.00,182.02 L238.50,181.79 L239.00,181.84 L239.50,182.06 L240.00,182.29 L240.50,182.51 L241.00,182.72 L241.50,182.93 L242.00,183.14 L242.50,183.34 L243.00,183.54 L243.50,183.72 L244.00,183.90 L244.50,184.05 L245.00,184.10 L245.50,184.10 L246.00,184.10 L246.50,184.10 L247.00,184.10 L247.50,184.10 L248.00,184.10 L248.50,184.10 L249.00,184.10 L249.50,184.10 L250.00,184.10 L250.50,184.10 L251.00,184.02 L251.50,183.86 L252.00,183.69 L252.50,183.50 L253.00,183.30 L253.50,183.10 L254.00,182.89 L254.50,182.68 L255.00,182.47 L255.50,182.24 L256.00,182.02 L256.50,181.79 L257.00,181.84 L257.50,182.06 L258.00,182.29 L258.50,182.51 L259.00,182.72 L259.50,182.93 L260.00,183.14 L260.50,183.34 L261.00,183.54 L261.50,183.72 L262.00,183.90 L262.50,184.05 L263.00,184.10 L263.50,184.10 L264.00,184.10 L264.50,184.10 L265.00,184.10 L265.50,184.10 L266.00,184.10 L266.50,184.10 L267.00,184.10 L267.50,184.10 L267.50,185.25 Z M214.00,190.40 L214.00,189.25 L214.50,189.25 L215.00,189.25 L215.50,189.25 L216.00,189.25 L216.50,189.25 L217.00,189.25 L217.50,189.11 L218.00,188.94 L218.50,188.76 L219.00,188.57 L219.50,188.37 L220.00,188.16 L220.50,187.95 L221.00,187.74 L221.50,187.52 L222.00,187.30 L222.50,187.07 L223.00,186.86 L223.50,187.08 L224.00,187.31 L224.50,187.53 L225.00,187.75 L225.50,187.96 L226.00,188.17 L226.50,188.38 L227.00,188.58 L227.50,188.77 L228.00,188.95 L228.50,189.12 L229.00,189.25 L229.50,189.25 L230.00,189.25 L230.50,189.25 L231.00,189.25 L231.50,189.25 L232.00,189.25 L232.50,189.25 L233.00,189.25 L233.50,189.25 L234.00,189.25 L234.50,189.25 L235.00,189.25 L235.50,189.11 L236.00,188.94 L236.50,188.76 L237.00,188.57 L237.50,188.37 L238.00,188.16 L238.50,187.95 L239.00,187.74 L239.50,187.52 L240.00,187.30 L240.50,187.07 L241.00,186.86 L241.50,187.08 L242.00,187.31 L242.50,187.53 L243.00,187.75 L243.50,187.96 L244.00,188.17 L244.50,188.38 L245.00,188.58 L245.50,188.77 L246.00,188.95 L246.50,189.12 L247.00,189.25 L247.50,189.25 L248.00,189.25 L248.50,189.25 L249.00,189.25 L249.50,189.25 L250.00,189.25 L250.50,189.25 L251.00,189.25 L251.50,189.25 L252.00,189.25 L252.50,189.25 L253.00,189.25 L253.50,189.11 L254.00,188.94 L254.50,188.76 L255.00,188.57 L255.50,188.37 L256.00,188.16 L256.50,187.95 L257.00,187.74 L257.50,187.52 L258.00,187.30 L258.50,187.07 L259.00,186.86 L259.50,187.08 L260.00,187.31 L260.50,187.53 L261.00,187.75 L261.50,187.96 L262.00,188.17 L262.50,188.38 L263.00,188.58 L263.50,188.77 L264.00,188.95 L264.50,189.12 L265.00,189.25 L265.50,189.25 L266.00,189.25 L266.50,189.25 L267.00,189.25 L267.50,189.25 L267.50,190.40 Z" fill="#0000ee"/><path d="M214.00,139.15 H267.50 M214.00,144.30 H267.50 M214.00,149.45 H267.50 M214.00,154.60 H267.50 M214.00,159.75 H267.50 M214.00,164.90 H267.50 M214.00,170.05 H267.50 M214.00,175.20 H267.50 M214.00,180.35 H267.50 M214.00,185.50 H267.50 M214.00,190.65 H267.50" stroke="#9c8a62" stroke-width="0.5" fill="none"/>
<path d="M221,131 L263,131 L267.5,137 L267.5,144 L265.5,150 L255,147.3 L251.5,151 L254.5,159.5 L251,160.5 L251,169 L248,170 L246,173 L243,174 L240,173 L238,170 L234.5,169 L234.5,160.5 L230.5,159.5 L234.5,151 L232,148.2 L221,152.3 L217.5,148.3 L214.5,140.5 Z" fill="#985816"/>
<path d="M214.5,139.5 Q216.5,132 223.5,131.3 L229,131.3 Q221,135 215.5,142 Z" fill="#e52226" stroke="#985816" stroke-width="0.9"/>
<path d="M216.5,147.5 Q219,136.5 230,135.5 Q238.5,135.5 243.5,145 Q236,143 230,143 Q222,143.5 218.5,149 Z" fill="#e52226" stroke="#985816" stroke-width="0.9"/>
<path d="M219.5,152 Q222.5,141.8 232,141.6 Q239.5,142 243.5,150.5 Q237,148.8 232,148.8 Q225,149.2 221,153 Z" fill="#e52226" stroke="#985816" stroke-width="0.9"/>
<path d="M255,133 Q262,131.5 267,137 L267,140.5 Q262,135.5 255,133 Z" fill="#e52226" stroke="#985816" stroke-width="0.9"/>
<path d="M247.5,144.5 Q250.5,137 256.5,137.2 Q263.5,138 267,144 Q260,142.2 255,142.3 Q251,142.8 247.5,144.5 Z" fill="#e52226" stroke="#985816" stroke-width="0.9"/>
<path d="M248,150.2 Q250.5,142.8 255.5,142.8 Q262,143.3 266,150 Q259,147.8 255,147.9 Q251,148.4 248,150.2 Z" fill="#e52226" stroke="#985816" stroke-width="0.9"/>
<path d="M230.4,159.5 Q232.9,157.0 233.9,155.0 A9.1,5.4 0 0 1 252.1,155.0 Q253.1,157.0 255.6,159.5 Z" fill="#e52226"/>
<path d="M234.2,169.0 Q235.9,166.8 236.6,165.1 A6.2,4.7 0 0 1 249.0,165.1 Q249.7,166.8 251.4,169.0 Z" fill="#e52226"/>
</g>
<rect x="214" y="131.3" width="53.5" height="79" fill="none" stroke="#444" stroke-width="1"/>
<text x="241.1" y="205.6" font-size="11" text-anchor="middle" fill="#2a2a2a">Si</text>
</g>
<path d="M240,211.6 V226.5" stroke="#ee1111" stroke-width="2.3"/>
<path d="M236.5,225.6 L240,232.6 L243.5,225.6 Z" fill="#ee1111"/>
<rect x="23" y="1.75" width="290.30" height="244.35" fill="none" stroke="#000" stroke-width="1.9"/>
<g font-size="11" text-anchor="middle" fill="#222">
<text x="69.2" y="259.9">1200</text>
<text x="127.4" y="259.9">1300</text>
<text x="185.6" y="259.9">1400</text>
<text x="243.8" y="259.9">1500</text>
<text x="302.0" y="259.9">1600</text>
</g>
<text transform="translate(168,276.2) scale(1.08,1)" x="0" y="0" font-size="15" text-anchor="middle" fill="#111">wavelength (nm)</text>
<text transform="translate(11.3,124.5) rotate(-90) scale(0.9,1)" x="0" y="0" font-size="15" text-anchor="middle" fill="#111">PL intensity (arbit. units)</text>
<text x="289" y="30" font-size="16" text-anchor="middle" fill="#111">RT</text>
</svg>
</body></html>
